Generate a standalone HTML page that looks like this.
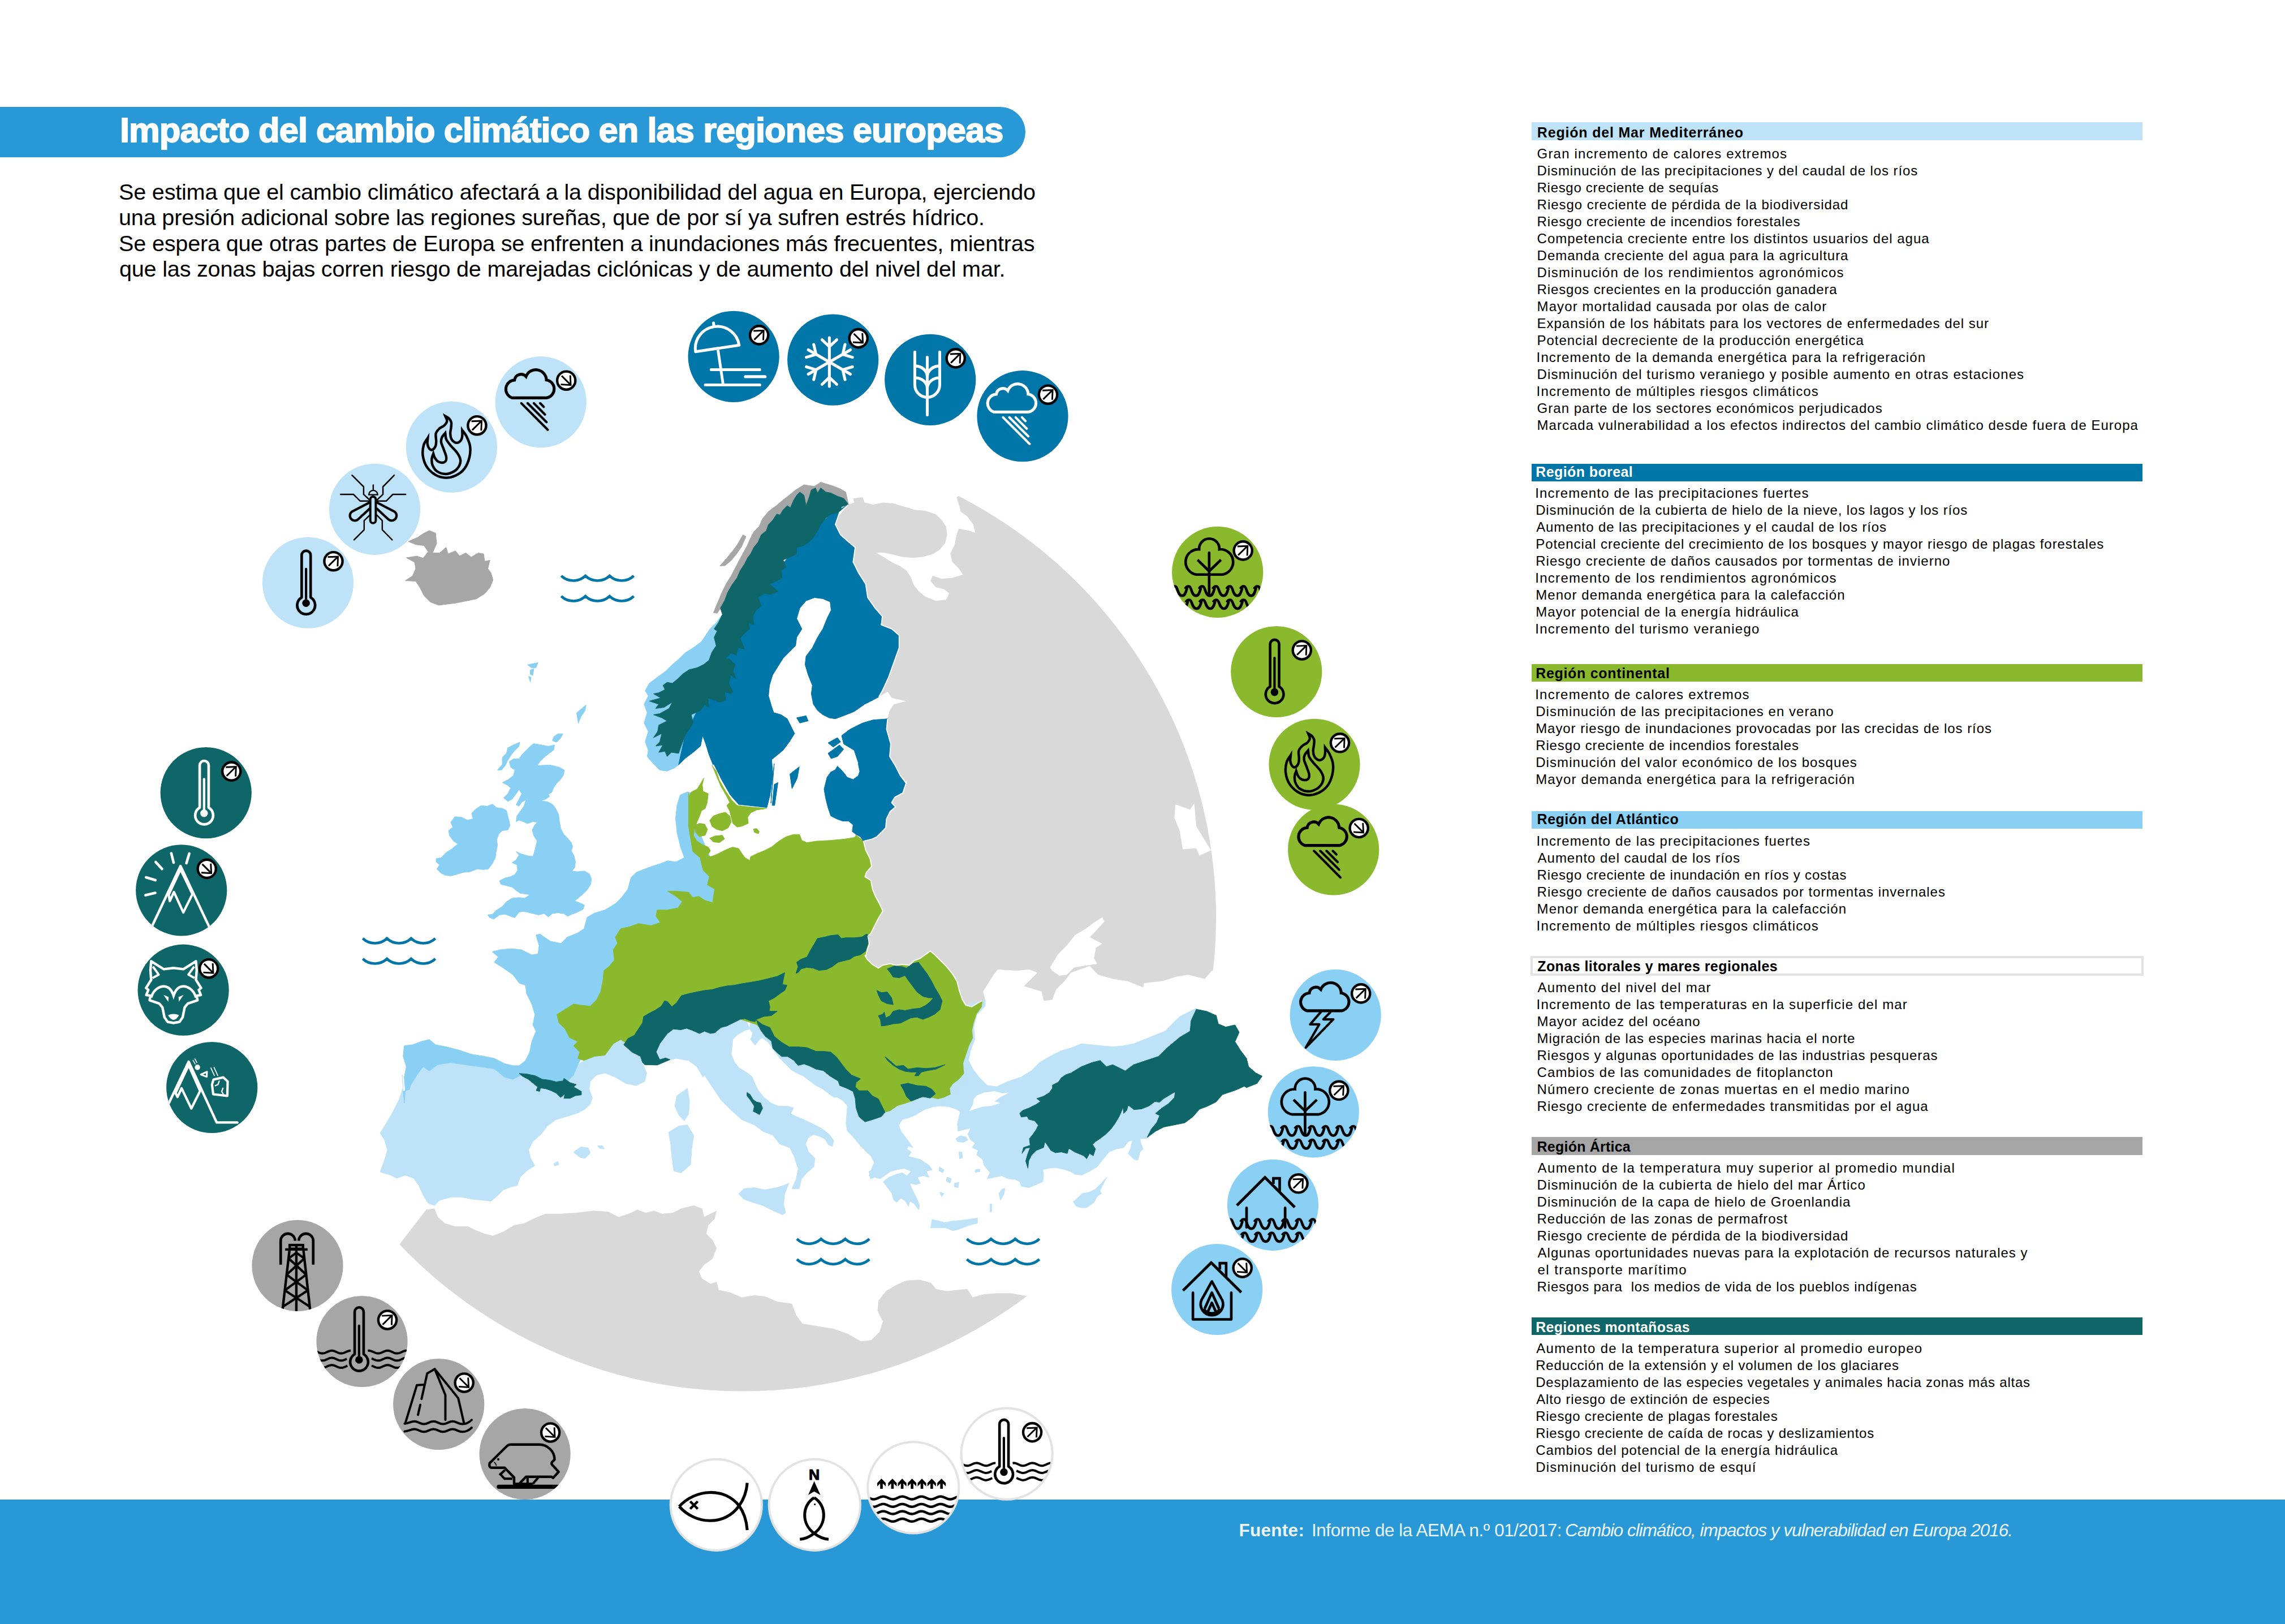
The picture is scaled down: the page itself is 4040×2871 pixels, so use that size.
<!DOCTYPE html>
<html lang="es"><head><meta charset="utf-8"><title>Impacto del cambio climático en las regiones europeas</title>
<style>
html,body{margin:0;padding:0;background:#fff}
body{width:4040px;height:2871px;position:relative;overflow:hidden;font-family:'Liberation Sans',sans-serif}
.t{position:absolute;white-space:pre;margin:0}
.b{position:absolute}
.art{position:absolute;left:0;top:0}
#titlebar{position:absolute;left:0;top:188.9px;width:1813.3px;height:89.6px;background:#2998D6;border-radius:0 44.8px 44.8px 0}
#footer{position:absolute;left:0;top:2651px;width:4040px;height:220px;background:#2998D6}
</style></head><body>
<div id="titlebar"></div>
<div id="footer"></div>
<div class="b" style="left:2708px;top:216.4px;width:1080px;height:31.6px;background:#BEE3F8"></div>
<div class="b" style="left:2708px;top:820.0px;width:1080px;height:31.2px;background:#0075A8"></div>
<div class="b" style="left:2708px;top:1173.5px;width:1080px;height:31.3px;background:#8AB92D"></div>
<div class="b" style="left:2708px;top:1433.5px;width:1080px;height:31.3px;background:#8AD0F5"></div>
<div class="b" style="left:2705.8px;top:1690.2px;width:1076.1px;height:27.3px;background:#fff;border:4.2px solid #E3E3E3"></div>
<div class="b" style="left:2708px;top:2010.4px;width:1080px;height:31.3px;background:#A6A6A6"></div>
<div class="b" style="left:2708px;top:2329.0px;width:1080px;height:31.2px;background:#0E6669"></div>
<svg class="art" width="4040" height="2871" viewBox="0 0 4040 2871">
<defs><clipPath id="mapclip"><circle cx="1312.5" cy="1622.0" r="837.5"/></clipPath></defs>
<g shape-rendering="geometricPrecision">
<path d="M1500.2,892.1 L1510.2,888.4 L1508.4,881.0 L1525.0,879.1 L1528.7,888.4 L1543.5,892.1 L1561.9,888.4 L1580.4,890.2 L1598.9,895.8 L1617.4,901.3 L1635.8,903.1 L1654.3,908.7 L1665.4,919.8 L1672.8,930.9 L1674.6,945.6 L1671.0,960.4 L1661.7,971.5 L1650.6,978.9 L1632.2,984.4 L1613.7,986.3 L1595.2,984.4 L1580.4,980.8 L1561.9,977.1 L1549.0,977.1 L1561.9,984.4 L1576.7,993.7 L1591.5,1001.1 L1602.6,1008.5 L1610.0,1019.6 L1615.5,1034.3 L1624.8,1045.4 L1635.8,1054.7 L1654.3,1062.1 L1672.8,1060.2 L1678.3,1049.1 L1669.1,1041.7 L1654.3,1038.0 L1645.1,1026.9 L1648.8,1017.7 L1665.4,1023.3 L1683.9,1021.4 L1702.4,1015.9 L1695.0,1004.8 L1683.9,993.7 L1680.2,978.9 L1687.6,964.1 L1691.3,945.6 L1695.0,934.6 L1713.5,938.3 L1724.5,942.0 L1720.8,927.2 L1709.8,912.4 L1698.7,905.0 L1695.0,890.2 L1691.3,879.1 L2000.0,700.0 L2400.0,800.0 L2400.0,1760.0 L2152.1,1719.5 L2142.9,1715.9 L2130.0,1730.6 L2100.4,1723.2 L2078.2,1726.9 L2056.1,1734.3 L2022.8,1738.0 L2021.0,1745.4 L1993.2,1734.3 L1967.4,1730.6 L1941.5,1723.2 L1926.7,1707.7 L1893.5,1719.5 L1882.4,1734.3 L1867.6,1749.1 L1860.2,1767.6 L1845.4,1769.4 L1841.7,1752.8 L1810.3,1743.6 L1834.3,1719.5 L1819.5,1714.0 L1797.4,1715.9 L1764.1,1714.0 L1756.7,1723.2 L1738.2,1752.8 L1741.9,1767.6 L1716.1,1811.9 L1597.8,1775.0 L1505.4,1719.5 L1505.4,1534.8 L1505.4,1483.0 L1553.5,1460.9 L1561.9,1374.3 L1561.9,1285.6 L1569.3,1270.8 L1573.0,1256.1 L1580.4,1245.0 L1602.6,1239.4 L1576.7,1233.9 L1569.3,1222.8 L1553.8,1232.0 L1543.5,1189.5 L1573.0,1134.1 L1543.5,1086.1 L1499.1,975.2 L1469.5,927.2Z" fill="#D9D9D9" clip-path="url(#mapclip)"/>
<path d="M687.0,2232.6 L707.3,2198.6 L753.5,2138.4 L768.3,2136.5 L773.8,2151.3 L786.7,2162.4 L805.2,2167.9 L827.4,2167.9 L842.2,2175.3 L856.9,2180.9 L871.7,2184.6 L890.2,2177.2 L908.7,2166.1 L927.2,2162.4 L941.9,2155.0 L964.1,2145.8 L990.0,2145.8 L1019.5,2143.9 L1049.1,2140.2 L1075.0,2142.1 L1093.5,2151.3 L1111.9,2145.8 L1126.7,2138.4 L1141.5,2143.9 L1156.3,2140.2 L1171.1,2145.8 L1189.5,2143.9 L1204.3,2136.5 L1226.5,2131.0 L1241.3,2136.5 L1245.0,2151.3 L1259.8,2143.9 L1267.1,2140.2 L1263.5,2155.0 L1252.4,2166.1 L1248.7,2180.9 L1259.8,2191.9 L1267.1,2206.7 L1259.8,2225.2 L1245.0,2236.3 L1235.7,2247.4 L1241.3,2260.3 L1256.1,2269.5 L1267.1,2265.9 L1270.8,2280.6 L1289.3,2284.3 L1311.5,2293.6 L1333.7,2289.9 L1352.1,2291.7 L1374.3,2301.0 L1400.2,2304.7 L1407.6,2325.0 L1418.7,2339.8 L1450.1,2345.3 L1473.9,2349.0 L1499.8,2358.2 L1522.0,2371.2 L1540.4,2369.3 L1555.2,2354.5 L1560.8,2336.1 L1551.5,2317.6 L1553.4,2299.1 L1566.3,2282.5 L1584.8,2271.4 L1601.4,2264.0 L1625.4,2262.2 L1645.8,2267.7 L1655.0,2278.8 L1673.5,2282.5 L1691.9,2280.6 L1710.4,2278.8 L1719.7,2293.6 L1740.0,2288.0 L1762.2,2286.2 L1788.0,2286.2 L1813.9,2291.0 L1880.4,2269.5 L1900.0,2700.0 L600.0,2700.0Z" fill="#D9D9D9" clip-path="url(#mapclip)"/>
<path d="M714.8,1848.9 L729.6,1847.0 L744.3,1841.5 L759.1,1837.8 L770.2,1847.0 L788.7,1850.7 L810.9,1856.3 L833.0,1863.7 L855.2,1867.4 L873.7,1871.1 L892.2,1880.3 L906.9,1884.0 L918.0,1884.0 L1014.1,1896.9 L1021.5,1882.2 L1032.6,1874.8 L1051.1,1867.4 L1069.5,1865.5 L1084.3,1845.2 L1097.3,1837.8 L1106.5,1843.3 L1117.6,1860.0 L1132.4,1867.4 L1136.1,1880.3 L1143.5,1896.9 L1139.8,1911.7 L1125.0,1919.1 L1106.5,1915.4 L1088.0,1904.3 L1069.5,1896.9 L1054.8,1900.6 L1043.7,1911.7 L1043.6,1911.1 L1041.7,1925.9 L1047.3,1940.7 L1043.6,1951.7 L1034.3,1961.0 L1019.5,1968.4 L1001.1,1973.9 L982.6,1979.5 L967.8,1990.5 L956.7,2005.3 L941.9,2018.3 L934.6,2033.0 L938.2,2047.8 L945.6,2060.8 L930.9,2070.0 L919.8,2081.1 L914.2,2095.9 L905.0,2097.7 L890.2,2103.3 L879.1,2114.3 L868.0,2123.6 L853.3,2121.7 L834.8,2119.9 L816.3,2116.2 L797.8,2116.2 L777.5,2121.7 L768.3,2131.0 L757.2,2127.3 L747.9,2112.5 L740.5,2095.9 L731.3,2082.9 L716.5,2077.4 L701.7,2082.9 L690.7,2077.4 L672.2,2071.8 L679.6,2051.5 L685.1,2033.0 L679.6,2014.6 L672.2,2003.5 L683.3,1985.0 L694.3,1966.5 L705.4,1944.3 L712.8,1922.2 L711.0,1900.0 L714.8,1950.1 L716.6,1926.5 L714.8,1904.3 L718.5,1885.8 L712.9,1867.4Z" fill="#BEE3F8" stroke="#BEE3F8" stroke-width="1" stroke-linejoin="round"/>
<path d="M1014.0,2036.7 L1026.9,2027.5 L1039.9,2029.3 L1043.6,2038.6 L1034.3,2047.8 L1025.1,2046.0Z" fill="#BEE3F8" stroke="#BEE3F8" stroke-width="1" stroke-linejoin="round"/>
<path d="M1056.5,2025.6 L1065.7,2025.6 L1068.3,2031.2 L1060.2,2030.1Z" fill="#BEE3F8" stroke="#BEE3F8" stroke-width="1" stroke-linejoin="round"/>
<path d="M978.9,2057.1 L986.3,2053.4 L988.1,2058.9 L980.7,2061.5Z" fill="#BEE3F8" stroke="#BEE3F8" stroke-width="1" stroke-linejoin="round"/>
<path d="M1196.9,1937.0 L1215.4,1924.0 L1219.1,1948.0 L1217.3,1970.2 L1209.9,1981.3 L1200.6,1972.1 L1193.2,1955.4Z" fill="#BEE3F8" stroke="#BEE3F8" stroke-width="1" stroke-linejoin="round"/>
<path d="M1182.2,2001.6 L1200.6,1990.5 L1215.4,1988.7 L1226.5,2007.2 L1222.8,2033.0 L1221.0,2058.9 L1204.3,2073.7 L1191.4,2070.0 L1187.7,2044.1 L1185.8,2022.0Z" fill="#BEE3F8" stroke="#BEE3F8" stroke-width="1" stroke-linejoin="round"/>
<path d="M1305.9,2110.6 L1315.2,2101.4 L1333.7,2099.6 L1352.1,2103.3 L1374.3,2099.6 L1394.6,2092.2 L1387.3,2110.6 L1385.4,2129.1 L1389.1,2143.9 L1383.6,2147.6 L1366.9,2140.2 L1348.4,2131.0 L1330.0,2125.4 L1315.2,2119.9Z" fill="#BEE3F8" stroke="#BEE3F8" stroke-width="1" stroke-linejoin="round"/>
<path d="M1184.8,1873.3 L1195.2,1871.1 L1217.4,1874.8 L1232.2,1885.8 L1243.2,1904.3 L1245.0,1900.0 L1259.8,1922.2 L1274.5,1944.3 L1293.0,1962.8 L1311.5,1979.5 L1333.7,1988.7 L1348.4,1999.8 L1366.9,2007.2 L1378.0,2022.0 L1396.5,2029.3 L1403.9,2044.1 L1411.3,2066.3 L1407.6,2084.8 L1400.2,2101.4 L1413.1,2101.4 L1416.8,2084.8 L1426.1,2073.7 L1439.0,2062.6 L1440.8,2047.8 L1429.7,2036.7 L1424.2,2022.0 L1429.7,2009.0 L1440.8,2003.5 L1426.8,2013.5 L1437.4,2005.6 L1447.9,2008.3 L1458.4,2013.5 L1464.9,2024.0 L1471.5,2026.6 L1474.1,2016.1 L1466.2,2005.6 L1453.1,1995.1 L1437.4,1987.2 L1421.6,1979.4 L1408.5,1974.1 L1398.0,1968.9 L1403.2,1958.4 L1392.7,1955.7 L1377.0,1955.7 L1363.8,1950.5 L1350.7,1940.0 L1340.2,1926.8 L1334.9,1916.3 L1329.7,1903.2 L1319.2,1895.3 L1306.1,1887.5 L1298.2,1877.0 L1292.9,1863.8 L1294.2,1850.7 L1295.5,1837.6 L1303.4,1829.7 L1316.6,1821.8 L1325.7,1819.2 L1311.3,1785.0 L1232.5,1785.0 L1180.0,1798.2 L1166.4,1845.2 L1161.9,1860.0 L1143.5,1878.5Z" fill="#BEE3F8" stroke="#BEE3F8" stroke-width="1" stroke-linejoin="round"/>
<path d="M1325.7,1819.2 L1331.0,1827.1 L1327.1,1837.6 L1334.9,1848.1 L1342.8,1837.6 L1348.1,1834.9 L1358.6,1842.8 L1369.1,1858.6 L1379.6,1871.7 L1390.1,1882.2 L1400.6,1892.7 L1411.1,1898.0 L1421.6,1903.2 L1432.1,1911.1 L1442.6,1919.0 L1453.1,1924.2 L1463.6,1932.1 L1474.1,1940.0 L1480.0,1939.4 L1490.5,1946.0 L1498.4,1955.1 L1497.1,1970.9 L1495.8,1986.7 L1498.4,1999.8 L1508.9,2010.3 L1519.4,2023.4 L1529.9,2033.9 L1540.4,2044.4 L1545.7,2054.9 L1540.4,2068.1 L1536.5,2078.6 L1545.7,2081.2 L1556.2,2083.8 L1564.0,2078.6 L1574.5,2070.7 L1585.0,2068.1 L1598.2,2065.4 L1611.3,2070.7 L1603.4,2078.6 L1595.5,2073.3 L1585.0,2075.9 L1571.9,2081.2 L1561.4,2089.1 L1569.3,2099.6 L1577.2,2110.1 L1579.8,2120.6 L1585.0,2125.8 L1592.9,2118.0 L1600.8,2123.2 L1606.1,2132.4 L1608.7,2123.2 L1616.6,2128.5 L1624.4,2139.0 L1625.7,2131.1 L1621.8,2120.6 L1616.6,2110.1 L1611.3,2099.6 L1608.7,2091.7 L1619.2,2094.3 L1627.1,2091.7 L1621.8,2081.2 L1632.3,2078.6 L1642.8,2081.2 L1637.6,2070.7 L1648.1,2068.1 L1642.8,2060.2 L1634.9,2054.9 L1627.1,2049.7 L1616.6,2047.1 L1606.1,2044.4 L1611.3,2036.6 L1603.4,2031.3 L1606.1,2026.1 L1613.9,2028.7 L1608.7,2020.8 L1600.8,2010.3 L1592.9,1999.8 L1589.0,1989.3 L1595.5,1978.8 L1606.1,1976.2 L1619.2,1970.9 L1627.1,1965.7 L1637.6,1960.4 L1650.7,1956.5 L1663.8,1955.1 L1677.0,1956.5 L1690.1,1960.4 L1698.0,1965.7 L1695.3,1976.2 L1692.7,1986.7 L1694.0,1999.8 L1703.2,1997.2 L1716.3,1994.5 L1711.1,2005.0 L1716.3,2015.5 L1724.2,2020.8 L1719.0,2028.7 L1729.5,2033.9 L1726.8,2041.8 L1737.4,2049.7 L1740.0,2060.2 L1750.5,2073.3 L1745.2,2083.8 L1758.4,2081.2 L1771.5,2078.6 L1782.0,2083.8 L1795.1,2085.1 L1803.0,2089.1 L1805.6,2097.0 L1818.8,2099.6 L1831.9,2094.3 L1843.7,2089.1 L1845.0,2078.6 L1843.7,2068.1 L1852.9,2065.4 L1866.0,2064.1 L1879.2,2066.8 L1892.3,2070.7 L1900.2,2075.9 L1913.3,2077.3 L1926.4,2070.7 L1939.6,2062.8 L1950.1,2049.7 L1960.6,2036.6 L1973.7,2031.3 L1986.8,2028.7 L1994.7,2018.2 L2002.6,2015.5 L1998.6,2031.3 L1994.7,2039.2 L2005.2,2049.7 L2011.8,2051.0 L2015.7,2036.6 L2021.0,2031.3 L2017.0,2020.8 L2015.7,2012.9 L2026.2,2012.9 L2100.0,1960.0 L2150.0,1900.0 L2120.0,1800.0 L2115.2,1782.4 L2100.4,1789.8 L2085.6,1797.2 L2074.5,1808.2 L2059.8,1823.0 L2041.3,1830.4 L2022.8,1837.8 L2004.3,1845.2 L1985.8,1848.9 L1967.4,1850.7 L1948.9,1848.9 L1930.4,1847.0 L1911.9,1845.2 L1893.5,1852.6 L1875.0,1858.1 L1856.5,1867.4 L1838.0,1878.5 L1823.2,1893.2 L1804.8,1904.3 L1782.6,1911.7 L1762.3,1921.0 L1745.6,1919.1 L1730.9,1904.3 L1719.8,1889.5 L1712.4,1874.8 L1716.1,1856.3 L1723.5,1837.8 L1721.6,1815.6 L1727.2,1793.5 L1741.9,1778.7 L1741.9,1767.6 L1678.9,1785.0 L1495.1,1837.6 L1363.8,1806.1 L1327.1,1798.2Z" fill="#BEE3F8" stroke="#BEE3F8" stroke-width="1" stroke-linejoin="round"/>
<path d="M1645.4,2170.5 L1648.1,2156.0 L1661.2,2158.7 L1669.1,2161.3 L1684.8,2158.7 L1698.0,2157.4 L1711.1,2156.0 L1728.2,2153.4 L1728.2,2162.6 L1716.3,2165.2 L1705.8,2169.2 L1695.3,2173.1 L1684.8,2175.7 L1671.7,2170.5 L1658.6,2170.5Z" fill="#BEE3F8" stroke="#BEE3F8" stroke-width="1" stroke-linejoin="round"/>
<path d="M1766.2,2110.1 L1771.5,2102.2 L1776.7,2100.9 L1775.4,2110.1 L1768.9,2121.9Z" fill="#BEE3F8" stroke="#BEE3F8" stroke-width="1" stroke-linejoin="round"/>
<path d="M1897.5,2124.5 L1905.4,2118.0 L1913.3,2110.1 L1926.4,2107.5 L1936.9,2102.2 L1947.4,2091.7 L1956.6,2081.2 L1950.1,2094.3 L1944.8,2104.8 L1947.4,2110.1 L1939.6,2115.3 L1934.3,2125.8 L1921.2,2135.0 L1910.7,2135.0 L1902.8,2132.4Z" fill="#BEE3F8" stroke="#BEE3F8" stroke-width="1" stroke-linejoin="round"/>
<path d="M1750.5,2128.5 L1753.1,2128.5 L1753.6,2141.6 L1750.5,2142.9Z" fill="#BEE3F8" stroke="#BEE3F8" stroke-width="1" stroke-linejoin="round"/>
<path d="M1690.1,2012.9 L1698.0,2007.7 L1708.5,2010.3 L1711.1,2015.5 L1703.2,2019.5 L1692.7,2018.2Z" fill="#BEE3F8" stroke="#BEE3F8" stroke-width="1" stroke-linejoin="round"/>
<path d="M1695.3,2036.6 L1700.6,2036.6 L1701.9,2047.1 L1696.6,2048.4Z" fill="#BEE3F8" stroke="#BEE3F8" stroke-width="1" stroke-linejoin="round"/>
<path d="M1724.2,2068.1 L1732.1,2066.8 L1732.6,2071.2 L1724.2,2072.5Z" fill="#BEE3F8" stroke="#BEE3F8" stroke-width="1" stroke-linejoin="round"/>
<path d="M1661.2,2062.8 L1669.1,2068.1 L1666.4,2073.3 L1659.9,2069.4Z" fill="#BEE3F8" stroke="#BEE3F8" stroke-width="1" stroke-linejoin="round"/>
<path d="M1674.3,2081.2 L1682.2,2083.8 L1679.6,2091.7 L1673.0,2087.8Z" fill="#BEE3F8" stroke="#BEE3F8" stroke-width="1" stroke-linejoin="round"/>
<path d="M1687.5,2091.7 L1695.3,2090.4 L1694.0,2099.6 L1687.5,2098.3Z" fill="#BEE3F8" stroke="#BEE3F8" stroke-width="1" stroke-linejoin="round"/>
<path d="M1661.2,2107.5 L1669.1,2110.1 L1665.1,2115.3Z" fill="#BEE3F8" stroke="#BEE3F8" stroke-width="1" stroke-linejoin="round"/>
<path d="M1536.5,2070.7 L1543.0,2068.1 L1547.0,2081.2 L1539.1,2083.8Z" fill="#BEE3F8" stroke="#BEE3F8" stroke-width="1" stroke-linejoin="round"/>
<path d="M932.7,1175.2 L951.2,1171.5 L947.5,1180.7 L940.1,1180.7Z" fill="#8AD0F5" stroke="#8AD0F5" stroke-width="1" stroke-linejoin="round"/>
<path d="M937.5,1184.4 L943.8,1182.6 L941.9,1194.4 L937.5,1191.8Z" fill="#8AD0F5" stroke="#8AD0F5" stroke-width="1" stroke-linejoin="round"/>
<path d="M934.6,1195.5 L939.0,1197.4 L937.5,1205.5Z" fill="#8AD0F5" stroke="#8AD0F5" stroke-width="1" stroke-linejoin="round"/>
<path d="M1019.5,1260.2 L1036.2,1246.2 L1034.3,1256.5 L1026.9,1267.6 L1022.5,1278.7Z" fill="#8AD0F5" stroke="#8AD0F5" stroke-width="1" stroke-linejoin="round"/>
<path d="M943.5,1314.5 L957.0,1316.9 L969.4,1319.4 L980.4,1316.9 L979.2,1325.6 L969.4,1333.0 L962.0,1339.1 L954.6,1346.5 L949.7,1353.9 L962.0,1352.7 L974.3,1352.7 L989.1,1356.4 L997.7,1361.3 L996.5,1369.9 L991.5,1377.3 L985.4,1383.4 L979.2,1392.1 L975.5,1400.7 L969.4,1404.4 L971.8,1408.1 L964.4,1413.0 L955.8,1415.5 L969.4,1417.9 L978.0,1422.9 L982.9,1430.2 L987.8,1440.1 L989.1,1452.4 L991.5,1464.7 L996.5,1474.6 L1003.8,1482.0 L1010.0,1489.4 L1012.5,1496.7 L1010.0,1504.1 L1014.9,1512.8 L1017.4,1523.8 L1016.2,1533.7 L1011.2,1539.9 L1021.1,1541.1 L1033.4,1539.9 L1042.0,1544.8 L1045.7,1553.4 L1044.5,1563.3 L1038.3,1573.1 L1030.9,1580.5 L1023.5,1586.7 L1016.2,1592.8 L1026.0,1596.5 L1033.4,1600.2 L1030.9,1607.6 L1021.1,1612.5 L1011.2,1616.2 L1003.8,1619.9 L996.5,1615.0 L986.6,1613.7 L976.7,1615.0 L969.4,1621.1 L962.0,1615.0 L952.1,1617.4 L942.3,1615.0 L932.4,1612.5 L925.0,1611.3 L917.6,1612.5 L910.2,1622.4 L902.9,1619.9 L893.0,1616.2 L883.2,1617.4 L873.3,1624.8 L865.9,1622.4 L862.2,1617.4 L870.8,1616.2 L878.2,1608.8 L888.1,1602.7 L895.5,1594.0 L905.3,1587.9 L917.6,1586.7 L927.5,1587.9 L937.3,1581.7 L930.0,1580.5 L920.1,1579.3 L912.7,1574.3 L905.3,1568.2 L895.5,1565.7 L885.6,1563.3 L883.2,1557.1 L893.0,1552.2 L902.9,1549.7 L910.2,1546.0 L915.2,1538.6 L913.9,1528.8 L905.3,1525.1 L912.7,1520.1 L917.6,1511.5 L912.7,1505.4 L920.1,1509.1 L932.4,1512.8 L942.3,1514.0 L944.7,1506.6 L947.2,1496.7 L949.7,1486.9 L943.5,1477.0 L941.0,1467.2 L944.7,1459.8 L949.7,1453.6 L942.3,1452.4 L932.4,1456.1 L925.0,1452.4 L917.6,1450.0 L912.7,1452.4 L913.9,1442.6 L920.1,1433.9 L926.3,1425.3 L930.0,1414.2 L922.6,1417.9 L917.6,1425.3 L912.7,1422.9 L917.6,1413.0 L922.6,1403.2 L917.6,1395.8 L912.7,1403.2 L905.3,1413.0 L897.9,1416.7 L890.5,1410.5 L897.9,1403.2 L902.9,1393.3 L897.9,1388.4 L888.1,1383.4 L897.9,1378.5 L907.8,1371.1 L910.2,1361.3 L902.9,1356.4 L900.4,1346.5 L907.8,1341.6 L917.6,1341.6 L922.6,1334.2 L930.0,1326.8 L937.3,1319.4Z" fill="#8AD0F5" stroke="#8AD0F5" stroke-width="1" stroke-linejoin="round"/>
<path d="M879.5,1361.3 L888.1,1351.4 L888.1,1339.1 L895.5,1331.7 L897.9,1321.9 L907.8,1316.9 L918.9,1312.0 L917.6,1319.4 L910.2,1326.8 L904.1,1334.2 L897.9,1344.0 L893.0,1353.9 L886.8,1361.3Z" fill="#8AD0F5" stroke="#8AD0F5" stroke-width="1" stroke-linejoin="round"/>
<path d="M976.7,1309.6 L979.2,1302.2 L986.6,1297.2 L995.2,1297.2 L991.5,1304.6 L984.1,1312.0Z" fill="#8AD0F5" stroke="#8AD0F5" stroke-width="1" stroke-linejoin="round"/>
<path d="M771.1,1517.7 L779.7,1516.5 L789.6,1506.6 L799.4,1500.4 L809.3,1491.8 L801.9,1486.9 L794.5,1477.0 L793.3,1468.4 L800.6,1462.3 L796.9,1453.6 L804.3,1443.8 L816.7,1445.0 L826.5,1450.0 L836.4,1447.5 L833.9,1437.6 L841.3,1430.2 L851.1,1424.1 L861.0,1425.3 L870.8,1421.6 L878.2,1427.8 L888.1,1429.0 L895.5,1432.7 L897.9,1442.6 L900.4,1452.4 L901.6,1459.8 L897.9,1467.2 L888.1,1468.4 L881.9,1474.6 L878.2,1484.4 L879.5,1494.3 L877.0,1506.6 L875.8,1516.5 L870.8,1526.3 L863.4,1536.2 L853.6,1537.4 L843.7,1536.2 L831.4,1541.1 L819.1,1542.3 L806.8,1546.0 L796.9,1548.5 L787.1,1547.2 L779.7,1543.5 L772.3,1536.2 L777.2,1528.8 L771.1,1523.8Z" fill="#8AD0F5" stroke="#8AD0F5" stroke-width="1" stroke-linejoin="round"/>
<path d="M1500.2,892.1 L1491.7,881.0 L1480.6,877.3 L1469.5,871.7 L1460.3,869.9 L1451.1,862.5 L1445.5,871.7 L1441.8,862.5 L1434.4,866.2 L1430.7,879.1 L1425.2,893.9 L1421.5,875.4 L1414.1,869.9 L1408.6,875.4 L1403.0,884.7 L1397.5,897.6 L1391.9,893.9 L1384.6,901.3 L1379.0,910.5 L1373.5,908.7 L1366.1,919.8 L1358.7,927.2 L1355.0,938.3 L1345.8,945.6 L1340.2,958.6 L1332.8,967.8 L1327.3,978.9 L1321.7,986.3 L1316.2,997.4 L1308.8,1008.5 L1303.3,1021.4 L1294.0,1034.3 L1286.6,1047.3 L1281.1,1062.1 L1273.7,1075.0 L1268.1,1084.2 L1261.5,1083.1 L1266.3,1071.3 L1271.8,1058.4 L1278.1,1043.6 L1284.8,1030.6 L1292.9,1017.7 L1299.6,1004.8 L1306.9,990.7 L1314.3,977.1 L1321.0,964.9 L1326.2,953.0 L1332.8,940.1 L1342.1,930.9 L1348.3,916.8 L1358.7,904.3 L1373.5,893.2 L1384.6,883.6 L1395.6,875.4 L1406.7,866.2 L1421.5,857.0 L1440.0,859.9 L1451.1,852.5 L1469.5,858.1 L1484.3,863.6 L1495.4,869.9Z" fill="#A6A6A6" stroke="#A6A6A6" stroke-width="1" stroke-linejoin="round"/>
<path d="M1272.9,1000.3 L1284.8,987.0 L1295.9,973.4 L1304.0,962.3 L1313.6,945.6 L1318.8,948.6 L1311.4,966.0 L1302.5,978.9 L1292.9,990.7 L1281.8,1000.0Z" fill="#A6A6A6" stroke="#A6A6A6" stroke-width="1" stroke-linejoin="round"/>
<path d="M1276.6,1086.8 L1266.3,1100.9 L1255.2,1111.9 L1247.8,1123.0 L1240.4,1134.1 L1225.6,1145.2 L1210.9,1154.4 L1199.8,1165.5 L1188.7,1174.8 L1177.6,1185.9 L1162.8,1196.9 L1148.0,1208.0 L1140.7,1221.0 L1146.2,1230.2 L1138.8,1245.0 L1144.3,1259.8 L1138.8,1278.2 L1146.2,1293.0 L1140.7,1311.5 L1146.2,1326.3 L1144.3,1337.4 L1153.6,1348.5 L1166.5,1361.4 L1179.5,1363.2 L1192.4,1357.7 L1199.8,1352.2 L1210.9,1300.4 L1247.8,1226.5 L1277.4,1152.6 L1292.2,1100.9Z" fill="#8AD0F5" stroke="#8AD0F5" stroke-width="1" stroke-linejoin="round"/>
<path d="M1215.5,1399.9 L1202.6,1405.4 L1197.0,1423.9 L1194.5,1446.1 L1197.0,1472.0 L1203.3,1497.8 L1210.0,1516.3 L1195.2,1523.7 L1180.4,1521.8 L1165.6,1527.4 L1143.5,1534.8 L1125.0,1542.2 L1115.7,1551.4 L1110.2,1571.7 L1099.1,1586.5 L1088.0,1597.6 L1069.5,1608.7 L1051.1,1614.2 L1038.1,1621.6 L1032.6,1641.9 L1021.5,1649.3 L1003.0,1656.7 L991.9,1667.8 L973.5,1664.1 L962.4,1656.7 L955.0,1651.2 L947.6,1653.0 L953.1,1671.5 L951.3,1686.3 L940.2,1688.1 L921.7,1678.9 L903.3,1677.1 L884.8,1678.9 L870.0,1682.6 L881.1,1691.8 L873.7,1701.1 L888.5,1710.3 L906.9,1723.2 L918.0,1738.0 L929.1,1741.7 L931.0,1756.5 L940.2,1775.0 L945.8,1793.5 L942.1,1811.9 L947.6,1823.0 L940.2,1841.5 L936.5,1860.0 L929.1,1874.8 L918.0,1884.0 L906.9,1884.0 L892.2,1880.3 L873.7,1871.1 L855.2,1867.4 L833.0,1863.7 L810.9,1856.3 L788.7,1850.7 L770.2,1847.0 L759.1,1837.8 L744.3,1841.5 L729.6,1847.0 L714.8,1848.9 L712.9,1867.4 L718.5,1885.8 L714.8,1904.3 L716.6,1926.5 L714.8,1950.1 L712.8,1929.6 L723.9,1925.9 L725.9,1919.1 L737.0,1900.6 L748.0,1885.8 L759.1,1893.2 L773.9,1882.2 L796.1,1878.5 L822.0,1882.2 L847.8,1885.8 L873.7,1889.5 L892.2,1904.3 L906.9,1908.0 L921.7,1900.6 L958.7,1911.7 L995.6,1919.1 L1014.1,1900.6 L1021.5,1882.2 L1069.5,1793.5 L1143.5,1645.6 L1276.5,1608.7 L1283.9,1556.9 L1254.3,1512.6 L1232.2,1460.9 L1221.1,1401.7Z" fill="#8AD0F5" stroke="#8AD0F5" stroke-width="1" stroke-linejoin="round"/>
<path d="M1217.4,1401.7 L1217.4,1460.9 L1224.8,1505.2 L1237.7,1516.3 L1243.2,1538.5 L1254.3,1549.6 L1250.6,1564.3 L1263.6,1571.7 L1259.9,1595.8 L1246.9,1592.1 L1235.8,1584.7 L1224.8,1586.5 L1217.4,1577.3 L1195.2,1575.4 L1180.4,1575.4 L1195.2,1584.7 L1206.3,1593.9 L1198.9,1605.0 L1180.4,1608.7 L1161.9,1608.7 L1160.1,1619.8 L1167.5,1630.9 L1150.8,1636.4 L1128.7,1632.7 L1113.9,1638.2 L1097.3,1641.9 L1088.0,1656.7 L1091.7,1667.8 L1084.3,1678.9 L1086.2,1697.4 L1076.9,1708.5 L1067.7,1715.9 L1065.9,1734.3 L1062.2,1752.8 L1054.8,1767.6 L1043.7,1778.7 L1025.2,1776.8 L1014.1,1775.0 L999.3,1784.2 L984.6,1793.5 L988.2,1808.2 L999.3,1819.3 L1006.7,1834.1 L1021.5,1841.5 L1014.1,1848.9 L1025.2,1860.0 L1021.5,1871.1 L1032.6,1874.8 L1051.1,1867.4 L1069.5,1865.5 L1084.3,1845.2 L1097.3,1837.8 L1106.5,1843.3 L1258.8,1785.0 L1337.6,1811.3 L1390.1,1863.8 L1468.9,1890.1 L1521.4,1942.6 L1564.7,1966.2 L1573.9,1963.6 L1587.0,1954.4 L1600.2,1950.5 L1615.9,1945.2 L1626.4,1940.0 L1636.9,1938.7 L1647.4,1940.0 L1657.9,1942.6 L1668.4,1940.0 L1680.3,1934.7 L1678.9,1924.2 L1684.2,1916.3 L1694.7,1908.5 L1703.9,1898.0 L1702.6,1879.6 L1707.8,1863.8 L1713.1,1848.1 L1719.7,1834.9 L1718.3,1821.8 L1721.0,1808.7 L1726.2,1792.9 L1735.4,1779.8 L1736.7,1769.3 L1728.8,1773.2 L1718.3,1779.8 L1707.8,1777.2 L1701.3,1766.7 L1696.0,1750.9 L1692.1,1735.1 L1684.2,1722.0 L1673.7,1708.9 L1663.2,1698.4 L1652.7,1687.9 L1644.8,1681.3 L1635.6,1687.9 L1626.4,1694.4 L1615.9,1698.4 L1608.0,1706.3 L1594.9,1704.9 L1584.4,1706.3 L1573.9,1703.6 L1560.8,1706.3 L1552.9,1711.5 L1542.4,1704.9 L1533.2,1695.8 L1529.3,1689.2 L1530.6,1691.9 L1533.2,1678.8 L1537.1,1668.3 L1534.5,1655.1 L1539.8,1649.9 L1546.3,1636.7 L1552.9,1623.6 L1560.8,1610.5 L1555.5,1598.7 L1547.6,1584.2 L1542.4,1571.1 L1539.8,1556.6 L1529.3,1550.1 L1531.9,1542.2 L1541.1,1531.7 L1538.5,1518.6 L1530.6,1502.8 L1526.6,1487.1 L1513.5,1476.6 L1510.9,1480.5 L1495.1,1483.1 L1468.9,1485.7 L1442.6,1487.1 L1426.8,1489.7 L1417.7,1485.7 L1413.7,1475.2 L1403.2,1475.2 L1390.1,1479.2 L1377.0,1487.1 L1363.8,1497.6 L1350.7,1504.1 L1337.6,1509.4 L1327.1,1514.6 L1325.7,1521.2 L1316.6,1515.9 L1311.3,1508.1 L1306.1,1500.2 L1295.5,1497.6 L1285.0,1501.5 L1277.2,1505.4 L1266.7,1510.7 L1256.2,1514.6 L1250.9,1512.0 L1256.2,1504.1 L1252.2,1497.6 L1240.4,1492.3 L1231.2,1485.7 L1226.0,1476.6 L1228.6,1463.4 L1232.5,1452.9 L1236.5,1443.7 L1240.4,1433.2 L1247.0,1429.3 L1250.4,1418.8 L1252.2,1403.0 L1243.0,1399.1 L1241.7,1387.3 L1244.3,1375.5 L1239.1,1384.6 L1232.5,1395.1 L1222.0,1400.4 L1218.1,1408.3Z" fill="#8AB92D" stroke="#8AB92D" stroke-width="1" stroke-linejoin="round"/>
<path d="M1228.6,1459.5 L1236.5,1455.5 L1245.7,1456.9 L1250.9,1466.1 L1247.0,1476.6 L1236.5,1479.2 L1229.9,1471.3Z" fill="#8AB92D" stroke="#8AB92D" stroke-width="1" stroke-linejoin="round"/>
<path d="M1254.8,1450.3 L1261.4,1442.4 L1271.9,1438.5 L1282.4,1435.9 L1290.3,1442.4 L1292.9,1452.9 L1287.7,1463.4 L1277.2,1468.7 L1266.7,1466.1 L1258.8,1460.8Z" fill="#8AB92D" stroke="#8AB92D" stroke-width="1" stroke-linejoin="round"/>
<path d="M1254.8,1481.8 L1264.0,1477.9 L1277.2,1476.6 L1281.1,1483.1 L1271.9,1489.7 L1261.4,1488.4Z" fill="#8AB92D" stroke="#8AB92D" stroke-width="1" stroke-linejoin="round"/>
<path d="M1332.3,1465.5 L1337.6,1464.7 L1342.3,1470.0 L1340.7,1473.9 L1333.6,1471.3Z" fill="#8AB92D" stroke="#8AB92D" stroke-width="1" stroke-linejoin="round"/>
<path d="M1258.8,1353.1 L1266.7,1363.6 L1271.9,1379.4 L1282.4,1397.8 L1292.9,1413.5 L1303.4,1424.0 L1327.1,1426.7 L1355.9,1429.3 L1337.6,1431.9 L1327.1,1437.2 L1321.8,1445.0 L1323.1,1455.5 L1311.3,1460.8 L1303.4,1462.1 L1295.5,1455.5 L1292.9,1445.0 L1290.3,1434.5 L1285.0,1424.0 L1290.3,1418.8 L1283.7,1405.7 L1274.5,1389.9 L1266.7,1371.5 L1261.4,1358.4Z" fill="#8AB92D" stroke="#8AB92D" stroke-width="1" stroke-linejoin="round"/>
<path d="M1500.2,892.1 L1484.3,905.7 L1476.9,927.2 L1486.2,945.6 L1501.0,958.6 L1512.0,967.8 L1508.4,993.7 L1517.6,1012.2 L1530.5,1032.5 L1534.2,1056.5 L1547.2,1075.0 L1560.1,1089.8 L1558.2,1104.6 L1576.7,1111.9 L1589.7,1123.0 L1589.7,1145.2 L1580.4,1171.1 L1571.2,1196.9 L1560.1,1221.0 L1553.8,1232.0 L1543.5,1237.6 L1528.7,1245.0 L1510.2,1257.9 L1491.7,1265.3 L1476.9,1270.8 L1465.9,1269.0 L1454.8,1263.5 L1445.5,1256.1 L1438.1,1245.0 L1434.4,1226.5 L1436.3,1211.7 L1428.9,1193.2 L1423.4,1174.8 L1425.2,1160.0 L1436.3,1145.2 L1445.5,1126.7 L1454.8,1111.9 L1462.2,1093.5 L1469.5,1078.7 L1467.7,1063.9 L1454.8,1058.4 L1440.0,1056.5 L1425.2,1062.1 L1414.1,1075.0 L1408.6,1093.5 L1417.8,1111.9 L1408.6,1126.7 L1406.7,1141.5 L1395.6,1152.6 L1384.6,1163.7 L1375.3,1178.5 L1366.1,1193.2 L1360.5,1211.7 L1358.7,1230.2 L1364.2,1248.7 L1367.9,1259.8 L1380.9,1263.5 L1391.9,1270.8 L1399.3,1285.6 L1404.9,1296.7 L1395.6,1311.5 L1384.6,1326.3 L1373.5,1335.5 L1364.2,1342.9 L1366.1,1363.2 L1366.1,1381.7 L1364.2,1400.2 L1363.1,1420.1 L1368.9,1350.0 L1365.2,1379.6 L1361.5,1405.4 L1355.9,1427.6 L1306.1,1422.1 L1291.3,1405.4 L1276.5,1379.6 L1261.7,1350.0 L1260.8,1352.2 L1253.4,1333.7 L1247.8,1315.2 L1242.3,1300.4 L1238.6,1318.9 L1225.6,1330.0 L1210.9,1341.1 L1199.8,1352.2 L1210.9,1300.4 L1247.8,1226.5 L1277.4,1152.6 L1306.9,1100.9 L1358.7,1026.9 L1414.1,960.4 L1469.5,908.7Z" fill="#0075A8" stroke="#0075A8" stroke-width="1" stroke-linejoin="round"/>
<path d="M1368.9,1387.0 L1375.5,1383.3 L1369.6,1423.9 L1365.2,1423.9Z" fill="#0075A8" stroke="#0075A8" stroke-width="1" stroke-linejoin="round"/>
<path d="M1396.6,1368.5 L1413.2,1355.5 L1409.5,1375.9 L1400.3,1394.3Z" fill="#0075A8" stroke="#0075A8" stroke-width="1" stroke-linejoin="round"/>
<path d="M1464.0,1313.3 L1480.6,1304.1 L1486.2,1311.5 L1473.2,1320.7Z" fill="#0075A8" stroke="#0075A8" stroke-width="1" stroke-linejoin="round"/>
<path d="M1464.0,1331.8 L1484.3,1317.0 L1491.7,1324.4 L1480.6,1337.4 L1469.5,1341.1Z" fill="#0075A8" stroke="#0075A8" stroke-width="1" stroke-linejoin="round"/>
<path d="M1408.6,1269.0 L1425.2,1265.3 L1428.9,1274.5 L1414.1,1278.2Z" fill="#0075A8" stroke="#0075A8" stroke-width="1" stroke-linejoin="round"/>
<path d="M1488.0,1300.4 L1502.8,1289.3 L1525.0,1278.2 L1543.5,1272.7 L1569.3,1270.8 L1567.5,1289.3 L1574.9,1315.2 L1573.0,1337.4 L1584.1,1355.8 L1591.5,1370.6 L1602.6,1385.4 L1602.8,1382.0 L1596.2,1401.7 L1581.8,1409.6 L1576.5,1418.8 L1583.1,1426.7 L1573.9,1434.5 L1567.3,1447.7 L1566.0,1463.4 L1558.2,1471.3 L1550.3,1479.2 L1542.4,1483.1 L1526.6,1487.1 L1521.4,1479.2 L1513.5,1475.2 L1506.9,1470.0 L1508.3,1458.2 L1500.4,1451.6 L1489.9,1451.6 L1479.4,1447.7 L1468.9,1442.4 L1463.6,1426.7 L1459.7,1410.9 L1457.0,1395.1 L1462.3,1374.1 L1468.9,1364.9 L1476.7,1361.0 L1480.7,1354.4 L1489.9,1363.6 L1497.8,1374.1 L1508.3,1378.1 L1517.4,1371.5 L1520.1,1363.6 L1517.4,1350.5 L1517.6,1348.5 L1510.2,1326.3 L1491.7,1315.2Z" fill="#0075A8" stroke="#0075A8" stroke-width="1" stroke-linejoin="round"/>
<path d="M1500.2,892.1 L1491.7,881.0 L1480.6,877.3 L1469.5,871.7 L1460.3,869.9 L1451.1,862.5 L1445.5,871.7 L1441.8,862.5 L1434.4,866.2 L1430.7,879.1 L1425.2,893.9 L1421.5,875.4 L1414.1,869.9 L1408.6,875.4 L1403.0,884.7 L1397.5,897.6 L1391.9,893.9 L1384.6,901.3 L1379.0,910.5 L1373.5,908.7 L1366.1,919.8 L1358.7,927.2 L1355.0,938.3 L1345.8,945.6 L1340.2,958.6 L1332.8,967.8 L1327.3,978.9 L1321.7,986.3 L1316.2,997.4 L1308.8,1008.5 L1303.3,1021.4 L1294.0,1034.3 L1286.6,1047.3 L1281.1,1062.1 L1273.7,1075.0 L1277.4,1086.1 L1270.0,1100.9 L1262.6,1111.9 L1268.1,1115.6 L1262.6,1126.7 L1266.3,1141.5 L1258.9,1152.6 L1253.4,1167.4 L1244.1,1174.8 L1233.0,1180.3 L1218.3,1184.0 L1207.2,1191.4 L1197.9,1200.6 L1188.7,1208.0 L1179.5,1206.2 L1172.1,1211.7 L1175.8,1219.1 L1164.7,1224.7 L1155.4,1226.5 L1168.4,1233.9 L1148.0,1239.4 L1164.7,1245.0 L1159.1,1252.4 L1173.9,1250.5 L1188.7,1241.3 L1183.1,1252.4 L1166.5,1261.6 L1155.4,1263.5 L1170.2,1269.0 L1179.5,1274.5 L1164.7,1281.9 L1162.8,1293.0 L1155.4,1304.1 L1170.2,1296.7 L1166.5,1311.5 L1159.1,1318.9 L1172.1,1317.0 L1164.7,1330.0 L1175.8,1328.1 L1179.5,1337.4 L1186.8,1330.0 L1199.8,1331.8 L1210.9,1300.4 L1225.6,1278.2 L1222.0,1263.5 L1238.6,1256.1 L1246.0,1245.0 L1253.4,1250.5 L1251.5,1233.9 L1262.6,1237.6 L1273.7,1241.3 L1282.9,1237.6 L1281.1,1222.8 L1292.2,1226.5 L1295.9,1222.8 L1288.5,1208.0 L1292.2,1193.2 L1301.4,1200.6 L1295.9,1185.9 L1299.6,1174.8 L1290.3,1165.5 L1282.9,1163.7 L1292.2,1154.4 L1301.4,1158.1 L1305.1,1145.2 L1316.2,1147.1 L1308.8,1128.6 L1314.3,1121.2 L1325.4,1111.9 L1323.6,1100.9 L1332.8,1104.6 L1331.0,1089.8 L1336.5,1078.7 L1345.8,1071.3 L1340.2,1056.5 L1351.3,1049.1 L1362.4,1051.0 L1375.3,1045.4 L1360.5,1032.5 L1373.5,1026.9 L1382.7,1021.4 L1380.9,1008.5 L1390.1,1002.9 L1384.6,990.0 L1397.5,984.4 L1408.6,978.9 L1408.6,967.8 L1421.5,964.1 L1434.4,954.9 L1443.7,942.0 L1451.1,927.2 L1460.3,916.1 L1469.5,908.7 L1484.3,905.7 L1488.0,895.8Z" fill="#0E6669" stroke="#0E6669" stroke-width="1" stroke-linejoin="round"/>
<path d="M1180.0,1770.6 L1187.9,1779.8 L1195.8,1773.2 L1204.9,1760.1 L1219.4,1756.2 L1232.5,1753.5 L1245.7,1750.9 L1258.8,1749.6 L1271.9,1745.7 L1285.0,1743.0 L1298.2,1741.7 L1311.3,1739.1 L1327.1,1736.5 L1342.8,1733.8 L1358.6,1729.9 L1374.3,1726.0 L1387.5,1719.4 L1384.8,1732.5 L1383.5,1740.4 L1391.4,1741.7 L1387.5,1750.9 L1379.6,1756.2 L1369.1,1764.0 L1358.6,1769.3 L1361.2,1779.8 L1359.9,1787.7 L1374.3,1787.7 L1363.8,1795.5 L1350.7,1796.9 L1337.6,1802.1 L1334.9,1806.1 L1327.1,1804.7 L1316.6,1800.8 L1308.7,1802.1 L1295.5,1808.7 L1285.0,1813.9 L1274.5,1816.6 L1264.0,1825.7 L1256.2,1827.1 L1245.7,1823.1 L1236.5,1827.1 L1224.6,1821.8 L1214.1,1817.9 L1203.6,1820.5 L1190.5,1819.2 L1180.0,1827.1 L1166.4,1845.2 L1160.1,1860.0 L1166.4,1873.3 L1176.7,1870.3 L1184.8,1873.3 L1161.9,1882.9 L1139.8,1882.2 L1136.1,1878.5 L1132.4,1867.4 L1117.6,1860.0 L1102.8,1847.0 L1110.2,1836.0 L1121.3,1830.4 L1128.7,1819.3 L1136.1,1808.2 L1137.9,1797.2 L1147.2,1791.6 L1158.2,1786.1 L1169.3,1778.7 L1174.9,1769.4Z" fill="#0E6669" stroke="#0E6669" stroke-width="1" stroke-linejoin="round"/>
<path d="M1337.6,1803.4 L1348.1,1811.3 L1361.2,1816.6 L1369.1,1832.3 L1382.2,1842.8 L1395.3,1850.7 L1411.1,1850.7 L1426.8,1852.0 L1442.6,1858.6 L1455.7,1858.6 L1468.9,1859.9 L1479.4,1869.1 L1487.2,1879.6 L1495.1,1890.1 L1505.6,1900.6 L1521.4,1907.2 L1513.5,1913.7 L1512.2,1921.6 L1518.8,1928.2 L1534.5,1928.2 L1542.4,1937.4 L1552.9,1942.6 L1558.2,1953.1 L1564.7,1966.2 L1558.2,1974.1 L1542.4,1979.4 L1529.3,1983.3 L1518.8,1974.1 L1513.5,1958.4 L1512.2,1942.6 L1508.3,1929.5 L1497.8,1924.2 L1484.6,1919.0 L1482.0,1911.1 L1468.9,1903.2 L1455.7,1892.7 L1442.6,1890.1 L1432.1,1884.8 L1421.6,1880.9 L1411.1,1883.5 L1403.2,1874.3 L1392.7,1867.8 L1382.2,1867.8 L1374.3,1861.2 L1366.4,1853.3 L1363.8,1840.2 L1353.3,1832.3 L1345.4,1821.8 L1340.2,1811.3Z" fill="#0E6669" stroke="#0E6669" stroke-width="1" stroke-linejoin="round"/>
<path d="M1426.8,1691.9 L1432.1,1681.4 L1440.0,1668.3 L1445.2,1659.1 L1458.4,1656.4 L1468.9,1653.8 L1482.0,1652.5 L1487.2,1659.1 L1495.1,1657.8 L1510.9,1657.8 L1524.0,1656.4 L1531.9,1651.2 L1535.8,1653.8 L1534.5,1668.3 L1530.6,1681.4 L1521.4,1687.9 L1510.9,1690.5 L1503.0,1695.8 L1492.5,1698.4 L1482.0,1701.0 L1471.5,1708.9 L1461.0,1714.1 L1447.9,1715.5 L1437.4,1711.5 L1426.8,1710.2 L1416.3,1712.8 L1411.1,1719.4 L1407.2,1720.7 L1411.1,1708.9 L1408.5,1701.0 L1416.3,1695.8Z" fill="#0E6669" stroke="#0E6669" stroke-width="1" stroke-linejoin="round"/>
<path d="M1568.7,1712.8 L1581.8,1707.6 L1594.9,1708.9 L1602.8,1711.5 L1613.3,1703.6 L1623.8,1701.0 L1631.7,1711.5 L1639.6,1722.0 L1647.4,1735.1 L1652.7,1745.7 L1660.6,1758.8 L1665.8,1769.3 L1661.9,1785.0 L1652.7,1792.9 L1642.2,1798.2 L1631.7,1802.1 L1621.2,1798.2 L1610.7,1799.5 L1602.8,1803.4 L1592.3,1808.7 L1579.2,1810.0 L1568.7,1812.6 L1558.2,1813.9 L1556.8,1803.4 L1552.9,1795.5 L1560.8,1792.9 L1563.4,1789.0 L1566.0,1799.5 L1573.9,1795.5 L1579.2,1787.7 L1589.7,1785.0 L1600.2,1786.4 L1613.3,1783.7 L1626.4,1782.4 L1636.9,1777.2 L1644.8,1770.6 L1650.1,1764.0 L1642.2,1764.0 L1631.7,1761.4 L1621.2,1753.5 L1613.3,1743.0 L1605.4,1732.5 L1600.2,1724.6 L1589.7,1728.6 L1579.2,1727.3 L1573.9,1719.4Z" fill="#0E6669" stroke="#0E6669" stroke-width="1" stroke-linejoin="round"/>
<path d="M1550.3,1750.9 L1558.2,1754.8 L1568.7,1753.5 L1576.5,1764.0 L1579.2,1775.9 L1568.7,1774.5 L1558.2,1769.3 L1552.9,1758.8Z" fill="#0E6669" stroke="#0E6669" stroke-width="1" stroke-linejoin="round"/>
<path d="M1564.7,1867.8 L1573.9,1875.6 L1584.4,1884.8 L1597.5,1883.5 L1605.4,1890.1 L1621.2,1887.5 L1636.9,1888.8 L1652.7,1887.5 L1671.1,1882.2 L1655.3,1890.1 L1639.6,1892.7 L1629.1,1895.3 L1623.8,1901.9 L1617.2,1901.9 L1621.2,1895.3 L1610.7,1895.3 L1600.2,1894.0 L1589.7,1890.1 L1579.2,1883.5 L1568.7,1874.3Z" fill="#0E6669" stroke="#0E6669" stroke-width="1" stroke-linejoin="round"/>
<path d="M1592.3,1917.7 L1605.4,1915.0 L1621.2,1919.0 L1636.9,1920.3 L1647.4,1925.5 L1654.0,1933.4 L1644.8,1941.3 L1631.7,1938.7 L1621.2,1942.6 L1610.7,1946.5 L1602.8,1938.7 L1597.5,1926.8Z" fill="#0E6669" stroke="#0E6669" stroke-width="1" stroke-linejoin="round"/>
<path d="M918.0,1897.7 L930.9,1898.6 L946.3,1901.7 L958.6,1907.9 L971.0,1909.4 L983.3,1912.5 L995.6,1910.9 L997.1,1906.3 L1007.9,1914.0 L1018.7,1917.1 L1014.1,1921.7 L1027.9,1929.4 L1027.9,1935.6 L1017.1,1937.1 L1007.9,1941.7 L997.1,1941.7 L998.7,1934.0 L991.0,1940.2 L983.3,1932.5 L974.0,1927.9 L964.8,1924.8 L955.6,1923.3 L954.0,1929.4 L947.9,1927.9 L950.9,1921.7 L943.3,1915.6 L934.0,1907.9 L924.8,1903.3Z" fill="#0E6669" stroke="#0E6669" stroke-width="1" stroke-linejoin="round"/>
<path d="M1320.7,1931.4 L1326.3,1935.1 L1331.8,1944.3 L1337.4,1948.0 L1344.8,1949.9 L1348.4,1959.1 L1342.9,1970.2 L1331.8,1964.7 L1333.7,1955.4 L1326.3,1944.3 L1320.7,1937.0Z" fill="#0E6669" stroke="#0E6669" stroke-width="1" stroke-linejoin="round"/>
<path d="M1884.4,1900.0 L1876.5,1905.3 L1871.3,1913.1 L1860.8,1918.4 L1860.8,1923.6 L1855.5,1931.5 L1845.0,1938.1 L1833.2,1942.0 L1839.8,1947.3 L1831.9,1952.5 L1818.8,1959.1 L1808.3,1963.0 L1803.0,1968.3 L1805.6,1974.8 L1816.1,1973.5 L1818.8,1978.8 L1829.3,1981.4 L1835.8,1989.3 L1831.9,1997.2 L1826.6,2005.0 L1820.1,2012.9 L1821.4,2024.7 L1809.6,2028.7 L1806.9,2039.2 L1813.5,2030.0 L1821.4,2028.7 L1817.4,2039.2 L1813.5,2052.3 L1817.4,2065.4 L1818.8,2052.3 L1824.0,2041.8 L1831.9,2033.9 L1845.0,2028.7 L1847.6,2018.2 L1852.9,2026.1 L1858.2,2033.9 L1866.0,2037.9 L1876.5,2036.6 L1887.0,2039.2 L1889.7,2030.0 L1900.2,2036.6 L1915.9,2043.1 L1921.2,2048.4 L1926.4,2039.2 L1933.0,2043.1 L1936.9,2031.3 L1931.7,2023.4 L1936.9,2018.2 L1944.8,2012.9 L1955.3,2005.0 L1963.2,1997.2 L1971.1,1986.7 L1978.9,1973.5 L1985.5,1957.8 L1986.8,1968.3 L1992.1,1963.0 L1994.7,1953.8 L2005.2,1961.7 L2018.3,1960.4 L2031.5,1955.1 L2042.0,1947.3 L2049.9,1948.6 L2057.7,1942.0 L2070.9,1934.1 L2080.1,1928.9 L2078.1,1929.6 L2076.3,1940.7 L2065.2,1951.7 L2054.1,1959.1 L2043.0,1968.4 L2050.4,1972.1 L2044.9,1985.0 L2035.6,1996.1 L2028.2,2010.9 L2043.0,1999.8 L2057.8,1992.4 L2076.3,1988.7 L2094.8,1985.0 L2109.5,1973.9 L2120.6,1961.0 L2135.4,1955.4 L2150.2,1948.0 L2161.3,1935.1 L2183.4,1927.7 L2200.1,1920.3 L2203.9,1922.8 L2222.4,1915.4 L2231.6,1902.5 L2220.5,1896.9 L2207.6,1885.8 L2203.9,1871.1 L2192.8,1856.3 L2183.6,1841.5 L2190.9,1824.9 L2183.6,1811.9 L2166.9,1815.6 L2154.0,1810.1 L2150.3,1795.3 L2133.7,1787.9 L2115.2,1784.2 L2105.9,1804.5 L2104.1,1823.0 L2085.6,1834.1 L2063.5,1852.6 L2048.7,1867.4 L2026.5,1874.8 L2004.3,1882.2 L1989.5,1893.2 L1967.4,1882.2 L1956.3,1885.8 L1945.2,1874.8 L1930.4,1878.5 L1911.9,1885.8 L1893.5,1896.9Z" fill="#0E6669" stroke="#0E6669" stroke-width="1" stroke-linejoin="round"/>
<path d="M759.0,938.0 L770.1,942.4 L772.0,960.9 L764.6,977.5 L777.5,977.5 L788.6,967.5 L792.3,979.3 L805.2,973.8 L812.6,983.0 L823.7,977.5 L832.9,984.9 L845.9,977.5 L855.1,979.3 L856.9,992.3 L866.2,990.4 L862.5,1005.2 L868.0,1012.6 L871.7,1025.5 L866.2,1038.5 L856.9,1049.6 L842.2,1058.8 L823.7,1062.5 L805.2,1066.2 L790.4,1068.0 L775.6,1069.9 L760.9,1064.3 L749.8,1053.3 L742.4,1038.5 L735.0,1027.4 L716.5,1026.6 L729.5,1018.1 L735.0,1005.2 L733.1,994.1 L718.4,986.0 L736.8,983.0 L747.9,986.7 L757.2,975.6 L749.8,964.6 L735.0,962.7 L722.1,957.2 L738.7,949.8 L749.8,942.4Z" fill="#A6A6A6" stroke="#A6A6A6" stroke-width="1" stroke-linejoin="round"/>
<path d="M1726.8,1936.8 L1740.0,1931.5 L1758.4,1928.9 L1771.5,1932.8 L1784.6,1931.5 L1768.9,1939.4 L1758.4,1947.3 L1768.9,1949.9 L1753.1,1955.1 L1737.4,1956.5 L1724.2,1960.4 L1713.7,1964.3 L1720.3,1952.5 L1721.6,1943.3Z" fill="#fff"/>
<path d="M1856.5,1710.3 L1871.3,1686.3 L1886.1,1671.5 L1900.8,1653.0 L1919.3,1641.9 L1934.1,1630.9 L1948.9,1621.6 L1952.6,1629.0 L1937.8,1645.6 L1926.7,1656.7 L1948.9,1668.6 L1937.8,1675.2 L1934.1,1693.7 L1939.7,1704.0 L1923.0,1706.6 L1899.0,1710.3 L1886.1,1723.2 L1873.1,1725.1 L1860.2,1715.9Z" fill="#fff"/>
<path d="M2078.2,1422.1 L2104.1,1431.3 L2111.5,1420.2 L2115.2,1460.9 L2141.1,1503.4 L2120.7,1512.6 L2115.2,1499.7 L2091.2,1501.5 L2085.6,1468.3 L2076.4,1446.1Z" fill="#fff"/>
<path d="M1500.2,892.1 L1484.3,905.7 L1476.9,927.2 L1486.2,945.6 L1501.0,958.6 L1512.0,967.8 L1508.4,993.7 L1517.6,1012.2 L1530.5,1032.5 L1534.2,1056.5 L1547.2,1075.0 L1560.1,1089.8 L1558.2,1104.6 L1576.7,1111.9 L1589.7,1123.0 L1589.7,1145.2 L1580.4,1171.1 L1571.2,1196.9 L1560.1,1221.0 L1553.8,1232.0" fill="none" stroke="#fff" stroke-width="1.8" stroke-linejoin="round"/>
<path d="M1569.3,1270.8 L1567.5,1289.3 L1574.9,1315.2 L1573.0,1337.4 L1584.1,1355.8 L1591.5,1370.6 L1602.6,1385.4 L1602.8,1382.0 L1596.2,1401.7 L1581.8,1409.6 L1576.5,1418.8 L1583.1,1426.7 L1573.9,1434.5 L1567.3,1447.7 L1566.0,1463.4 L1558.2,1471.3 L1550.3,1479.2 L1542.4,1483.1 L1526.6,1487.1 L1530.6,1502.8 L1538.5,1518.6 L1541.1,1531.7 L1531.9,1542.2 L1529.3,1550.1 L1539.8,1556.6 L1542.4,1571.1 L1547.6,1584.2 L1555.5,1598.7 L1560.8,1610.5 L1552.9,1623.6 L1546.3,1636.7 L1539.8,1649.9 L1534.5,1655.1 L1537.1,1668.3 L1533.2,1678.8 L1530.6,1691.9 L1529.3,1689.2 L1533.2,1695.8 L1542.4,1704.9 L1552.9,1711.5 L1560.8,1706.3 L1573.9,1703.6 L1584.4,1706.3 L1594.9,1704.9 L1608.0,1706.3 L1615.9,1698.4 L1626.4,1694.4 L1635.6,1687.9 L1644.8,1681.3 L1652.7,1687.9 L1663.2,1698.4 L1673.7,1708.9 L1684.2,1722.0 L1692.1,1735.1 L1696.0,1750.9 L1701.3,1766.7 L1707.8,1777.2 L1718.3,1779.8 L1728.8,1773.2 L1736.7,1769.3" fill="none" stroke="#fff" stroke-width="1.8" stroke-linejoin="round"/>
</g>
<path d="M992.3,1018.0 a31.1,31.1 0 0 0 42.75,0 a31.1,31.1 0 0 0 42.75,0 a31.1,31.1 0 0 0 42.75,0" fill="none" stroke="#0075A8" stroke-width="4.7" stroke-linecap="butt" stroke-linejoin="miter"/>
<path d="M992.3,1054.0 a31.1,31.1 0 0 0 42.75,0 a31.1,31.1 0 0 0 42.75,0 a31.1,31.1 0 0 0 42.75,0" fill="none" stroke="#0075A8" stroke-width="4.7" stroke-linecap="butt" stroke-linejoin="miter"/>
<path d="M641.4,1659.0 a31.1,31.1 0 0 0 42.75,0 a31.1,31.1 0 0 0 42.75,0 a31.1,31.1 0 0 0 42.75,0" fill="none" stroke="#0075A8" stroke-width="4.7" stroke-linecap="butt" stroke-linejoin="miter"/>
<path d="M641.4,1695.0 a31.1,31.1 0 0 0 42.75,0 a31.1,31.1 0 0 0 42.75,0 a31.1,31.1 0 0 0 42.75,0" fill="none" stroke="#0075A8" stroke-width="4.7" stroke-linecap="butt" stroke-linejoin="miter"/>
<path d="M1408.9,2190.3 a31.1,31.1 0 0 0 42.75,0 a31.1,31.1 0 0 0 42.75,0 a31.1,31.1 0 0 0 42.75,0" fill="none" stroke="#0075A8" stroke-width="4.7" stroke-linecap="butt" stroke-linejoin="miter"/>
<path d="M1408.9,2226.3 a31.1,31.1 0 0 0 42.75,0 a31.1,31.1 0 0 0 42.75,0 a31.1,31.1 0 0 0 42.75,0" fill="none" stroke="#0075A8" stroke-width="4.7" stroke-linecap="butt" stroke-linejoin="miter"/>
<path d="M1709.4,2190.3 a31.1,31.1 0 0 0 42.75,0 a31.1,31.1 0 0 0 42.75,0 a31.1,31.1 0 0 0 42.75,0" fill="none" stroke="#0075A8" stroke-width="4.7" stroke-linecap="butt" stroke-linejoin="miter"/>
<path d="M1709.4,2226.3 a31.1,31.1 0 0 0 42.75,0 a31.1,31.1 0 0 0 42.75,0 a31.1,31.1 0 0 0 42.75,0" fill="none" stroke="#0075A8" stroke-width="4.7" stroke-linecap="butt" stroke-linejoin="miter"/>
<defs><clipPath id="ic8"><circle cx="809" cy="815.5" r="727"/></clipPath><clipPath id="ic13"><circle cx="809" cy="815.5" r="727"/></clipPath><clipPath id="ic14"><circle cx="816.5" cy="815" r="727"/></clipPath><clipPath id="ic17"><circle cx="809" cy="811.5" r="727"/></clipPath><clipPath id="ic19"><circle cx="809" cy="816.5" r="727"/></clipPath><clipPath id="ic20"><circle cx="811.5" cy="815.5" r="727"/></clipPath><clipPath id="ic21"><circle cx="811.5" cy="816.5" r="727"/></clipPath><clipPath id="ic23"><circle cx="812.5" cy="816.5" r="727"/></clipPath><clipPath id="ic26"><circle cx="810" cy="811.5" r="709"/></clipPath><clipPath id="ic27"><circle cx="811.5" cy="816.5" r="709"/></clipPath></defs>
<circle cx="544.5" cy="1030.2" r="80.6" fill="#BEE3F8"/>
<g transform="translate(544.5 1030.2) scale(0.11084) translate(-816.5 -814)"><g transform="translate(0 0)"><path d="M716,1050 V375 A71,71 0 0 1 859,375 V1050 A143,143 0 1 1 716,1050 Z" fill="none" stroke="#000" stroke-width="42" stroke-linejoin='round'/><path d="M786,595 V1140" fill="none" stroke="#000" stroke-width="38" stroke-linecap='round'/><circle cx="786" cy="1140" r="61" fill="#000"/></g></g>
<g transform="translate(589.5 992.2)"><circle r="16.1" fill="#fff" stroke="#000" stroke-width="4.4"/><path d="M-8.6,8.2 L7.4,-7.6 M-9.9,-7.4 L8.1,-8.1 L7.4,9.1" fill="none" stroke="#000" stroke-width="2.9" stroke-linecap="butt" stroke-linejoin="miter"/></g>
<circle cx="662.5" cy="900.3" r="80.6" fill="#BEE3F8"/>
<g transform="translate(662.5 900.3) scale(0.11084) translate(-816.5 -823.5)"><path d="M455,280 L640,465 V585 L740,680" fill="none" stroke="#000" stroke-width="22" stroke-linecap='round' stroke-linejoin='miter'/><path d="M1128,280 L948,465 V585 L848,680" fill="none" stroke="#000" stroke-width="22" stroke-linecap='round' stroke-linejoin='miter'/><path d="M272,587 H478 L585,693 H740" fill="none" stroke="#000" stroke-width="22" stroke-linecap='round' stroke-linejoin='miter'/><path d="M1310,587 H1105 L1000,693 H848" fill="none" stroke="#000" stroke-width="22" stroke-linecap='round' stroke-linejoin='miter'/><path d="M487,1312 L648,1150 V1005 L740,915" fill="none" stroke="#000" stroke-width="22" stroke-linecap='round' stroke-linejoin='miter'/><path d="M1095,1312 L937,1150 V1005 L848,915" fill="none" stroke="#000" stroke-width="22" stroke-linecap='round' stroke-linejoin='miter'/><path d="M793,438 V520" fill="none" stroke="#000" stroke-width="22" stroke-linecap='round'/><path d="M723,592 A70,70 0 0 1 863,592 Z" fill="none" stroke="#000" stroke-width="22" stroke-linejoin='round'/><rect x="746" y="623" width="88" height="422" rx="44" fill="none" stroke="#000" stroke-width="36" /><path d="M742,712 L452,862 A74,74 0 0 0 548,988 L742,808" fill="none" stroke="#000" stroke-width="38" stroke-linejoin='round'/><path d="M844,712 L1134,862 A74,74 0 0 1 1038,988 L844,808" fill="none" stroke="#000" stroke-width="38" stroke-linejoin='round'/></g>
<circle cx="798.4" cy="790.2" r="80.6" fill="#BEE3F8"/>
<g transform="translate(798.4 790.2) scale(0.11084) translate(-815.5 -814)"><path d="M715,322 C720,335 744,375 742,400 C740,425 720,450 700,470 C680,490 642,498 620,520 C598,542 573,567 565,600 C557,633 571,687 570,720 C569,753 570,777 560,800 C550,823 527,851 510,858 C493,865 473,856 460,840 C447,824 434,789 430,760 C426,731 436,683 437,668 C426,687 385,733 372,780 C359,827 349,892 357,950 C365,1008 386,1078 420,1130 C454,1182 510,1231 560,1260 C610,1289 667,1303 720,1305 C773,1307 830,1294 880,1270 C930,1246 983,1208 1020,1160 C1057,1112 1085,1040 1100,980 C1115,920 1118,857 1110,800 C1102,743 1073,682 1052,640 C1031,598 996,561 985,545 C985,558 989,596 987,620 C985,644 984,670 975,690 C966,710 948,731 930,740 C912,749 889,750 870,742 C851,734 828,714 815,690 C802,666 796,632 795,600 C794,568 806,530 808,500 C810,470 816,443 810,420 C804,397 791,376 775,360 C759,344 725,328 715,322 Z" fill="none" stroke="#000" stroke-width="40" stroke-linejoin='miter' stroke-miterlimit='4.5'/><path d="M715,592 C706,603 673,635 662,660 C651,685 645,708 650,740 C655,772 677,812 690,850 C703,888 725,938 730,970 C735,1002 732,1024 720,1040 C708,1056 682,1065 660,1065 C638,1065 609,1054 590,1040 C571,1026 556,1000 545,980 C534,960 528,932 525,922 C521,935 502,970 500,1000 C498,1030 497,1067 510,1100 C523,1133 545,1176 580,1200 C615,1224 673,1245 720,1245 C767,1245 823,1222 860,1200 C897,1178 924,1142 940,1110 C956,1078 962,1045 955,1010 C948,975 926,937 900,900 C874,863 828,825 800,790 C772,755 744,723 730,690 C716,657 718,608 715,592 Z" fill="none" stroke="#000" stroke-width="40" stroke-linejoin='miter' stroke-miterlimit='4.5'/></g>
<g transform="translate(843.4 752.2)"><circle r="16.1" fill="#fff" stroke="#000" stroke-width="4.4"/><path d="M-8.6,8.2 L7.4,-7.6 M-9.9,-7.4 L8.1,-8.1 L7.4,9.1" fill="none" stroke="#000" stroke-width="2.9" stroke-linecap="butt" stroke-linejoin="miter"/></g>
<circle cx="956.2" cy="710.7" r="80.6" fill="#BEE3F8"/>
<g transform="translate(956.2 710.7) scale(0.11084) translate(-814 -818.5)"><path d="M355,752 A146,146 0 0 1 395,468 A105,105 0 0 1 578,412 A168,168 0 0 1 903,468 A144,144 0 0 1 910,752 Z" fill="none" stroke="#000" stroke-width="46" stroke-linejoin='miter'/><path d="M503,838 L925,1262" fill="none" stroke="#000" stroke-width="38" stroke-linecap='round'/><path d="M603,838 L905,1140" fill="none" stroke="#000" stroke-width="38" stroke-linecap='round'/><path d="M703,838 L880,1017" fill="none" stroke="#000" stroke-width="38" stroke-linecap='round'/><path d="M803,838 L860,895" fill="none" stroke="#000" stroke-width="38" stroke-linecap='round'/></g>
<g transform="translate(1001.2 672.7)"><circle r="16.1" fill="#fff" stroke="#000" stroke-width="4.4"/><path d="M-8.2,-8.3 L7.6,7.5 M7.0,-9.2 L7.9,7.9 L-9.7,6.9" fill="none" stroke="#000" stroke-width="2.9" stroke-linecap="butt" stroke-linejoin="miter"/></g>
<circle cx="1297.1" cy="630.4" r="80.6" fill="#0075A8"/>
<g transform="translate(1297.1 630.4) scale(0.11084) translate(-812.5 -806.5)"><path d="M205,728 A351,351 0 0 1 900,625 Z" fill="none" stroke="#fff" stroke-width="46" stroke-linejoin='round'/><path d="M497,322 L492,272" fill="none" stroke="#fff" stroke-width="46" stroke-linecap='round'/><path d="M563,700 L643,1240" fill="none" stroke="#fff" stroke-width="44" /><path d="M455,1015 H1230" fill="none" stroke="#fff" stroke-width="46" stroke-linecap='round'/><path d="M1000,1127 H1315" fill="none" stroke="#fff" stroke-width="46" stroke-linecap='round'/><path d="M362,1258 H1230" fill="none" stroke="#fff" stroke-width="46" stroke-linecap='round'/></g>
<g transform="translate(1342.1 592.4)"><circle r="16.1" fill="#fff" stroke="#000" stroke-width="4.4"/><path d="M-8.6,8.2 L7.4,-7.6 M-9.9,-7.4 L8.1,-8.1 L7.4,9.1" fill="none" stroke="#000" stroke-width="2.9" stroke-linecap="butt" stroke-linejoin="miter"/></g>
<circle cx="1472.7" cy="636.1" r="80.6" fill="#0075A8"/>
<g transform="translate(1472.7 636.1) scale(0.11084) translate(-809 -812.5)"><g transform="rotate(0 752 848)"><path d="M752,848 V460" fill="none" stroke="#fff" stroke-width="46" stroke-linecap='round'/><path d="M634,492 L752,602 L870,492" fill="none" stroke="#fff" stroke-width="46" stroke-linecap='round' stroke-linejoin='miter'/></g><g transform="rotate(60 752 848)"><path d="M752,848 V460" fill="none" stroke="#fff" stroke-width="46" stroke-linecap='round'/><path d="M634,492 L752,602 L870,492" fill="none" stroke="#fff" stroke-width="46" stroke-linecap='round' stroke-linejoin='miter'/></g><g transform="rotate(120 752 848)"><path d="M752,848 V460" fill="none" stroke="#fff" stroke-width="46" stroke-linecap='round'/><path d="M634,492 L752,602 L870,492" fill="none" stroke="#fff" stroke-width="46" stroke-linecap='round' stroke-linejoin='miter'/></g><g transform="rotate(180 752 848)"><path d="M752,848 V460" fill="none" stroke="#fff" stroke-width="46" stroke-linecap='round'/><path d="M634,492 L752,602 L870,492" fill="none" stroke="#fff" stroke-width="46" stroke-linecap='round' stroke-linejoin='miter'/></g><g transform="rotate(240 752 848)"><path d="M752,848 V460" fill="none" stroke="#fff" stroke-width="46" stroke-linecap='round'/><path d="M634,492 L752,602 L870,492" fill="none" stroke="#fff" stroke-width="46" stroke-linecap='round' stroke-linejoin='miter'/></g><g transform="rotate(300 752 848)"><path d="M752,848 V460" fill="none" stroke="#fff" stroke-width="46" stroke-linecap='round'/><path d="M634,492 L752,602 L870,492" fill="none" stroke="#fff" stroke-width="46" stroke-linecap='round' stroke-linejoin='miter'/></g></g>
<g transform="translate(1517.7 598.1)"><circle r="16.1" fill="#fff" stroke="#000" stroke-width="4.4"/><path d="M-8.2,-8.3 L7.6,7.5 M7.0,-9.2 L7.9,7.9 L-9.7,6.9" fill="none" stroke="#000" stroke-width="2.9" stroke-linecap="butt" stroke-linejoin="miter"/></g>
<circle cx="1644.7" cy="671.4" r="80.6" fill="#0075A8"/>
<g transform="translate(1644.7 671.4) scale(0.11084) translate(-809 -815.5)"><path d="M762,455 V1375" fill="none" stroke="#fff" stroke-width="46" stroke-linecap='round'/><path d="M563,372 V895 A199,199 0 0 0 762,1095 A199,199 0 0 0 960,895 V372" fill="none" stroke="#fff" stroke-width="46" stroke-linecap='round'/><path d="M563,597 A190,170 0 0 1 762,769" fill="none" stroke="#fff" stroke-width="46" /><path d="M960,597 A190,170 0 0 0 762,769" fill="none" stroke="#fff" stroke-width="46" /><path d="M563,785 A190,170 0 0 1 762,957" fill="none" stroke="#fff" stroke-width="46" /><path d="M960,785 A190,170 0 0 0 762,957" fill="none" stroke="#fff" stroke-width="46" /></g>
<g transform="translate(1689.7 633.4)"><circle r="16.1" fill="#fff" stroke="#000" stroke-width="4.4"/><path d="M-8.6,8.2 L7.4,-7.6 M-9.9,-7.4 L8.1,-8.1 L7.4,9.1" fill="none" stroke="#000" stroke-width="2.9" stroke-linecap="butt" stroke-linejoin="miter"/></g>
<circle cx="1808.0" cy="735.7" r="80.6" fill="#0075A8"/>
<g transform="translate(1808.0 735.7) scale(0.11084) translate(-814 -818.5)"><path d="M355,752 A146,146 0 0 1 395,468 A105,105 0 0 1 578,412 A168,168 0 0 1 903,468 A144,144 0 0 1 910,752 Z" fill="none" stroke="#fff" stroke-width="46" stroke-linejoin='miter'/><path d="M503,838 L925,1262" fill="none" stroke="#fff" stroke-width="38" stroke-linecap='round'/><path d="M603,838 L905,1140" fill="none" stroke="#fff" stroke-width="38" stroke-linecap='round'/><path d="M703,838 L880,1017" fill="none" stroke="#fff" stroke-width="38" stroke-linecap='round'/><path d="M803,838 L860,895" fill="none" stroke="#fff" stroke-width="38" stroke-linecap='round'/></g>
<g transform="translate(1853.0 697.7)"><circle r="16.1" fill="#fff" stroke="#000" stroke-width="4.4"/><path d="M-8.6,8.2 L7.4,-7.6 M-9.9,-7.4 L8.1,-8.1 L7.4,9.1" fill="none" stroke="#000" stroke-width="2.9" stroke-linecap="butt" stroke-linejoin="miter"/></g>
<circle cx="2152.7" cy="1011.4" r="80.6" fill="#8AB92D"/>
<g transform="translate(2152.7 1011.4) scale(0.11084) translate(-809 -815.5)"><path d="M470,855 A203,203 0 0 1 515,452 A161.7,161.7 0 1 1 838,452 A203,203 0 0 1 885,855 Z" fill="none" stroke="#000" stroke-width="42" /><path d="M675,505 V1175" fill="none" stroke="#000" stroke-width="42" stroke-linecap='round'/><path d="M505,635 L675,800 L848,635" fill="none" stroke="#000" stroke-width="42" stroke-linecap='square'/><g clip-path="url(#ic8)"><path d="M-149,1083 C-131,1049 -105,1039 -83,1045 C-43,1055 -51,1192 25,1192 C75,1192 85,1126 103,1067 M71,1083 C89,1049 115,1039 137,1045 C177,1055 169,1192 245,1192 C295,1192 305,1126 323,1067 M291,1083 C309,1049 335,1039 357,1045 C397,1055 389,1192 465,1192 C515,1192 525,1126 543,1067 M511,1083 C529,1049 555,1039 577,1045 C617,1055 609,1192 685,1192 C735,1192 745,1126 763,1067 M731,1083 C749,1049 775,1039 797,1045 C837,1055 829,1192 905,1192 C955,1192 965,1126 983,1067 M951,1083 C969,1049 995,1039 1017,1045 C1057,1055 1049,1192 1125,1192 C1175,1192 1185,1126 1203,1067 M1171,1083 C1189,1049 1215,1039 1237,1045 C1277,1055 1269,1192 1345,1192 C1395,1192 1405,1126 1423,1067 M1391,1083 C1409,1049 1435,1039 1457,1045 C1497,1055 1489,1192 1565,1192 C1615,1192 1625,1126 1643,1067 M1611,1083 C1629,1049 1655,1039 1677,1045 C1717,1055 1709,1192 1785,1192 C1835,1192 1845,1126 1863,1067" fill="none" stroke="#000" stroke-width="42" /><path d="M83,1297 C101,1266 127,1257 149,1262 C189,1272 181,1398 257,1398 C307,1398 317,1337 335,1282 M301,1297 C319,1266 345,1257 367,1262 C407,1272 399,1398 475,1398 C525,1398 535,1337 553,1282 M519,1297 C537,1266 563,1257 585,1262 C625,1272 617,1398 693,1398 C743,1398 753,1337 771,1282 M737,1297 C755,1266 781,1257 803,1262 C843,1272 835,1398 911,1398 C961,1398 971,1337 989,1282 M955,1297 C973,1266 999,1257 1021,1262 C1061,1272 1053,1398 1129,1398 C1179,1398 1189,1337 1207,1282 M1173,1297 C1191,1266 1217,1257 1239,1262 C1279,1272 1271,1398 1347,1398 C1397,1398 1407,1337 1425,1282 M1391,1297 C1409,1266 1435,1257 1457,1262 C1497,1272 1489,1398 1565,1398 C1615,1398 1625,1337 1643,1282" fill="none" stroke="#000" stroke-width="42" /></g></g>
<g transform="translate(2197.7 973.4)"><circle r="16.1" fill="#fff" stroke="#000" stroke-width="4.4"/><path d="M-8.6,8.2 L7.4,-7.6 M-9.9,-7.4 L8.1,-8.1 L7.4,9.1" fill="none" stroke="#000" stroke-width="2.9" stroke-linecap="butt" stroke-linejoin="miter"/></g>
<circle cx="2256.8" cy="1187.5" r="80.6" fill="#8AB92D"/>
<g transform="translate(2256.8 1187.5) scale(0.11084) translate(-816.5 -814)"><g transform="translate(0 0)"><path d="M716,1050 V375 A71,71 0 0 1 859,375 V1050 A143,143 0 1 1 716,1050 Z" fill="none" stroke="#000" stroke-width="42" stroke-linejoin='round'/><path d="M786,595 V1140" fill="none" stroke="#000" stroke-width="38" stroke-linecap='round'/><circle cx="786" cy="1140" r="61" fill="#000"/></g></g>
<g transform="translate(2301.8 1149.5)"><circle r="16.1" fill="#fff" stroke="#000" stroke-width="4.4"/><path d="M-8.6,8.2 L7.4,-7.6 M-9.9,-7.4 L8.1,-8.1 L7.4,9.1" fill="none" stroke="#000" stroke-width="2.9" stroke-linecap="butt" stroke-linejoin="miter"/></g>
<circle cx="2324.0" cy="1351.3" r="80.6" fill="#8AB92D"/>
<g transform="translate(2324.0 1351.3) scale(0.11084) translate(-815.5 -814)"><path d="M715,322 C720,335 744,375 742,400 C740,425 720,450 700,470 C680,490 642,498 620,520 C598,542 573,567 565,600 C557,633 571,687 570,720 C569,753 570,777 560,800 C550,823 527,851 510,858 C493,865 473,856 460,840 C447,824 434,789 430,760 C426,731 436,683 437,668 C426,687 385,733 372,780 C359,827 349,892 357,950 C365,1008 386,1078 420,1130 C454,1182 510,1231 560,1260 C610,1289 667,1303 720,1305 C773,1307 830,1294 880,1270 C930,1246 983,1208 1020,1160 C1057,1112 1085,1040 1100,980 C1115,920 1118,857 1110,800 C1102,743 1073,682 1052,640 C1031,598 996,561 985,545 C985,558 989,596 987,620 C985,644 984,670 975,690 C966,710 948,731 930,740 C912,749 889,750 870,742 C851,734 828,714 815,690 C802,666 796,632 795,600 C794,568 806,530 808,500 C810,470 816,443 810,420 C804,397 791,376 775,360 C759,344 725,328 715,322 Z" fill="none" stroke="#000" stroke-width="40" stroke-linejoin='miter' stroke-miterlimit='4.5'/><path d="M715,592 C706,603 673,635 662,660 C651,685 645,708 650,740 C655,772 677,812 690,850 C703,888 725,938 730,970 C735,1002 732,1024 720,1040 C708,1056 682,1065 660,1065 C638,1065 609,1054 590,1040 C571,1026 556,1000 545,980 C534,960 528,932 525,922 C521,935 502,970 500,1000 C498,1030 497,1067 510,1100 C523,1133 545,1176 580,1200 C615,1224 673,1245 720,1245 C767,1245 823,1222 860,1200 C897,1178 924,1142 940,1110 C956,1078 962,1045 955,1010 C948,975 926,937 900,900 C874,863 828,825 800,790 C772,755 744,723 730,690 C716,657 718,608 715,592 Z" fill="none" stroke="#000" stroke-width="40" stroke-linejoin='miter' stroke-miterlimit='4.5'/></g>
<g transform="translate(2369.0 1313.3)"><circle r="16.1" fill="#fff" stroke="#000" stroke-width="4.4"/><path d="M-8.6,8.2 L7.4,-7.6 M-9.9,-7.4 L8.1,-8.1 L7.4,9.1" fill="none" stroke="#000" stroke-width="2.9" stroke-linecap="butt" stroke-linejoin="miter"/></g>
<circle cx="2357.7" cy="1502.0" r="80.6" fill="#8AB92D"/>
<g transform="translate(2357.7 1502.0) scale(0.11084) translate(-814 -818.5)"><path d="M355,752 A146,146 0 0 1 395,468 A105,105 0 0 1 578,412 A168,168 0 0 1 903,468 A144,144 0 0 1 910,752 Z" fill="none" stroke="#000" stroke-width="46" stroke-linejoin='miter'/><path d="M503,838 L925,1262" fill="none" stroke="#000" stroke-width="38" stroke-linecap='round'/><path d="M603,838 L905,1140" fill="none" stroke="#000" stroke-width="38" stroke-linecap='round'/><path d="M703,838 L880,1017" fill="none" stroke="#000" stroke-width="38" stroke-linecap='round'/><path d="M803,838 L860,895" fill="none" stroke="#000" stroke-width="38" stroke-linecap='round'/></g>
<g transform="translate(2402.7 1464.0)"><circle r="16.1" fill="#fff" stroke="#000" stroke-width="4.4"/><path d="M-8.2,-8.3 L7.6,7.5 M7.0,-9.2 L7.9,7.9 L-9.7,6.9" fill="none" stroke="#000" stroke-width="2.9" stroke-linecap="butt" stroke-linejoin="miter"/></g>
<circle cx="2361.2" cy="1794.4" r="80.6" fill="#8AD0F5"/>
<g transform="translate(2361.2 1794.4) scale(0.11084) translate(-814 -815.5)"><g transform="translate(2 -4)"><path d="M355,752 A146,146 0 0 1 395,468 A105,105 0 0 1 578,412 A168,168 0 0 1 903,468 A144,144 0 0 1 910,752 Z" fill="none" stroke="#000" stroke-width="46" /></g><path d="M580,768 L410,965 H555 L340,1335 L780,885 H620 L735,768" fill="none" stroke="#000" stroke-width="38" stroke-linejoin='round' stroke-linecap='round'/></g>
<g transform="translate(2406.2 1756.4)"><circle r="16.1" fill="#fff" stroke="#000" stroke-width="4.4"/><path d="M-8.6,8.2 L7.4,-7.6 M-9.9,-7.4 L8.1,-8.1 L7.4,9.1" fill="none" stroke="#000" stroke-width="2.9" stroke-linecap="butt" stroke-linejoin="miter"/></g>
<circle cx="2322.3" cy="1965.8" r="80.6" fill="#8AD0F5"/>
<g transform="translate(2322.3 1965.8) scale(0.11084) translate(-809 -815.5)"><path d="M470,855 A203,203 0 0 1 515,452 A161.7,161.7 0 1 1 838,452 A203,203 0 0 1 885,855 Z" fill="none" stroke="#000" stroke-width="42" /><path d="M675,505 V1175" fill="none" stroke="#000" stroke-width="42" stroke-linecap='round'/><path d="M505,635 L675,800 L848,635" fill="none" stroke="#000" stroke-width="42" stroke-linecap='square'/><g clip-path="url(#ic13)"><path d="M-149,1083 C-131,1049 -105,1039 -83,1045 C-43,1055 -51,1192 25,1192 C75,1192 85,1126 103,1067 M71,1083 C89,1049 115,1039 137,1045 C177,1055 169,1192 245,1192 C295,1192 305,1126 323,1067 M291,1083 C309,1049 335,1039 357,1045 C397,1055 389,1192 465,1192 C515,1192 525,1126 543,1067 M511,1083 C529,1049 555,1039 577,1045 C617,1055 609,1192 685,1192 C735,1192 745,1126 763,1067 M731,1083 C749,1049 775,1039 797,1045 C837,1055 829,1192 905,1192 C955,1192 965,1126 983,1067 M951,1083 C969,1049 995,1039 1017,1045 C1057,1055 1049,1192 1125,1192 C1175,1192 1185,1126 1203,1067 M1171,1083 C1189,1049 1215,1039 1237,1045 C1277,1055 1269,1192 1345,1192 C1395,1192 1405,1126 1423,1067 M1391,1083 C1409,1049 1435,1039 1457,1045 C1497,1055 1489,1192 1565,1192 C1615,1192 1625,1126 1643,1067 M1611,1083 C1629,1049 1655,1039 1677,1045 C1717,1055 1709,1192 1785,1192 C1835,1192 1845,1126 1863,1067" fill="none" stroke="#000" stroke-width="42" /><path d="M83,1297 C101,1266 127,1257 149,1262 C189,1272 181,1398 257,1398 C307,1398 317,1337 335,1282 M301,1297 C319,1266 345,1257 367,1262 C407,1272 399,1398 475,1398 C525,1398 535,1337 553,1282 M519,1297 C537,1266 563,1257 585,1262 C625,1272 617,1398 693,1398 C743,1398 753,1337 771,1282 M737,1297 C755,1266 781,1257 803,1262 C843,1272 835,1398 911,1398 C961,1398 971,1337 989,1282 M955,1297 C973,1266 999,1257 1021,1262 C1061,1272 1053,1398 1129,1398 C1179,1398 1189,1337 1207,1282 M1173,1297 C1191,1266 1217,1257 1239,1262 C1279,1272 1271,1398 1347,1398 C1397,1398 1407,1337 1425,1282 M1391,1297 C1409,1266 1435,1257 1457,1262 C1497,1272 1489,1398 1565,1398 C1615,1398 1625,1337 1643,1282" fill="none" stroke="#000" stroke-width="42" /></g></g>
<g transform="translate(2367.3 1927.8)"><circle r="16.1" fill="#fff" stroke="#000" stroke-width="4.4"/><path d="M-8.6,8.2 L7.4,-7.6 M-9.9,-7.4 L8.1,-8.1 L7.4,9.1" fill="none" stroke="#000" stroke-width="2.9" stroke-linecap="butt" stroke-linejoin="miter"/></g>
<circle cx="2250.5" cy="2130.3" r="80.6" fill="#8AD0F5"/>
<g transform="translate(2250.5 2130.3) scale(0.11084) translate(-816.5 -815)"><path d="M258,805 L690,375 L1150,835" fill="none" stroke="#000" stroke-width="44" stroke-linecap='square'/><path d="M825,478 V390 H925 V595" fill="none" stroke="#000" stroke-width="42" /><path d="M397,860 V1170 M1012,860 V1170" fill="none" stroke="#000" stroke-width="42" stroke-linecap='round'/><g transform="translate(10 0)"><g clip-path="url(#ic14)"><path d="M-149,1083 C-131,1049 -105,1039 -83,1045 C-43,1055 -51,1192 25,1192 C75,1192 85,1126 103,1067 M71,1083 C89,1049 115,1039 137,1045 C177,1055 169,1192 245,1192 C295,1192 305,1126 323,1067 M291,1083 C309,1049 335,1039 357,1045 C397,1055 389,1192 465,1192 C515,1192 525,1126 543,1067 M511,1083 C529,1049 555,1039 577,1045 C617,1055 609,1192 685,1192 C735,1192 745,1126 763,1067 M731,1083 C749,1049 775,1039 797,1045 C837,1055 829,1192 905,1192 C955,1192 965,1126 983,1067 M951,1083 C969,1049 995,1039 1017,1045 C1057,1055 1049,1192 1125,1192 C1175,1192 1185,1126 1203,1067 M1171,1083 C1189,1049 1215,1039 1237,1045 C1277,1055 1269,1192 1345,1192 C1395,1192 1405,1126 1423,1067 M1391,1083 C1409,1049 1435,1039 1457,1045 C1497,1055 1489,1192 1565,1192 C1615,1192 1625,1126 1643,1067 M1611,1083 C1629,1049 1655,1039 1677,1045 C1717,1055 1709,1192 1785,1192 C1835,1192 1845,1126 1863,1067" fill="none" stroke="#000" stroke-width="42" /><path d="M83,1297 C101,1266 127,1257 149,1262 C189,1272 181,1398 257,1398 C307,1398 317,1337 335,1282 M301,1297 C319,1266 345,1257 367,1262 C407,1272 399,1398 475,1398 C525,1398 535,1337 553,1282 M519,1297 C537,1266 563,1257 585,1262 C625,1272 617,1398 693,1398 C743,1398 753,1337 771,1282 M737,1297 C755,1266 781,1257 803,1262 C843,1272 835,1398 911,1398 C961,1398 971,1337 989,1282 M955,1297 C973,1266 999,1257 1021,1262 C1061,1272 1053,1398 1129,1398 C1179,1398 1189,1337 1207,1282 M1173,1297 C1191,1266 1217,1257 1239,1262 C1279,1272 1271,1398 1347,1398 C1397,1398 1407,1337 1425,1282 M1391,1297 C1409,1266 1435,1257 1457,1262 C1497,1272 1489,1398 1565,1398 C1615,1398 1625,1337 1643,1282" fill="none" stroke="#000" stroke-width="42" /></g></g></g>
<g transform="translate(2295.5 2092.3)"><circle r="16.1" fill="#fff" stroke="#000" stroke-width="4.4"/><path d="M-8.6,8.2 L7.4,-7.6 M-9.9,-7.4 L8.1,-8.1 L7.4,9.1" fill="none" stroke="#000" stroke-width="2.9" stroke-linecap="butt" stroke-linejoin="miter"/></g>
<circle cx="2151.7" cy="2279.5" r="80.6" fill="#8AD0F5"/>
<g transform="translate(2151.7 2279.5) scale(0.11084) translate(-809 -816.5)"><path d="M282,820 L717,390 L1180,848" fill="none" stroke="#000" stroke-width="44" stroke-linecap='square'/><path d="M855,498 V398 H955 V615" fill="none" stroke="#000" stroke-width="42" /><path d="M425,868 V1295 H1037 V868" fill="none" stroke="#000" stroke-width="42" stroke-linecap='round' stroke-linejoin='round'/><path d="M727,690 L560,990 A178,178 0 1 0 894,990 Z" fill="none" stroke="#000" stroke-width="42" stroke-linejoin='round'/><path d="M612,1125 L727,868 L842,1125" fill="none" stroke="#000" stroke-width="42" stroke-linejoin='round'/><path d="M662,1175 L727,1030 L792,1175" fill="none" stroke="#000" stroke-width="42" stroke-linejoin='round'/><path d="M590,1130 A160,160 0 0 0 864,1130" fill="none" stroke="#000" stroke-width="60" /></g>
<g transform="translate(2196.7 2241.5)"><circle r="16.1" fill="#fff" stroke="#000" stroke-width="4.4"/><path d="M-8.2,-8.3 L7.6,7.5 M7.0,-9.2 L7.9,7.9 L-9.7,6.9" fill="none" stroke="#000" stroke-width="2.9" stroke-linecap="butt" stroke-linejoin="miter"/></g>
<circle cx="364.2" cy="1401.6" r="80.6" fill="#0E6669"/>
<g transform="translate(364.2 1401.6) scale(0.11084) translate(-816.5 -814)"><g transform="translate(0 0)"><path d="M716,1050 V375 A71,71 0 0 1 859,375 V1050 A143,143 0 1 1 716,1050 Z" fill="none" stroke="#fff" stroke-width="42" stroke-linejoin='round'/><path d="M786,595 V1140" fill="none" stroke="#fff" stroke-width="38" stroke-linecap='round'/><circle cx="786" cy="1140" r="61" fill="#fff"/></g></g>
<g transform="translate(409.2 1363.6)"><circle r="16.1" fill="#fff" stroke="#000" stroke-width="4.4"/><path d="M-8.6,8.2 L7.4,-7.6 M-9.9,-7.4 L8.1,-8.1 L7.4,9.1" fill="none" stroke="#000" stroke-width="2.9" stroke-linecap="butt" stroke-linejoin="miter"/></g>
<circle cx="320.7" cy="1573.9" r="80.6" fill="#0E6669"/>
<g transform="translate(320.7 1573.9) scale(0.11084) translate(-809 -811.5)"><g clip-path="url(#ic17)"><path d="M320,1428 L795,425 L1270,1432" fill="none" stroke="#fff" stroke-width="40" stroke-linejoin='round'/></g><path d="M795,478 L607,880 L624,985 L690,838 L840,1165 L985,872 Z" fill="none" stroke="#fff" stroke-width="38" stroke-linejoin='round'/><path d="M648,222 L685,370" fill="none" stroke="#fff" stroke-width="42" stroke-linecap='round'/><path d="M935,225 L890,378" fill="none" stroke="#fff" stroke-width="42" stroke-linecap='round'/><path d="M400,362 L500,470" fill="none" stroke="#fff" stroke-width="42" stroke-linecap='round'/><path d="M245,605 L395,650" fill="none" stroke="#fff" stroke-width="42" stroke-linecap='round'/><path d="M237,890 L392,853" fill="none" stroke="#fff" stroke-width="42" stroke-linecap='round'/></g>
<g transform="translate(365.7 1535.9)"><circle r="16.1" fill="#fff" stroke="#000" stroke-width="4.4"/><path d="M-8.2,-8.3 L7.6,7.5 M7.0,-9.2 L7.9,7.9 L-9.7,6.9" fill="none" stroke="#000" stroke-width="2.9" stroke-linecap="butt" stroke-linejoin="miter"/></g>
<circle cx="324.1" cy="1750.2" r="80.6" fill="#0E6669"/>
<g transform="translate(324.1 1750.2) scale(0.11084) translate(-812.5 -814)"><path d="M657,462 L500,482 L300,355 L288,500 L300,652 L218,782 L255,812 L222,895 L288,905 L275,978 L430,1030 L480,1092 L512,1250 L562,1322 L657,1340 L752,1322 L802,1250 L834,1092 L884,1030 L1039,978 L1026,905 L1092,895 L1059,812 L1096,782 L1014,652 L1026,500 L1014,355 L814,482 L657,462 Z" fill="none" stroke="#fff" stroke-width="40" stroke-linejoin='round'/><path d="M328,440 L420,568 L322,622" fill="none" stroke="#fff" stroke-width="36" stroke-linejoin='round'/><path d="M986,440 L894,568 L992,622" fill="none" stroke="#fff" stroke-width="36" stroke-linejoin='round'/><path d="M300,935 C330,820 420,755 500,755 C580,755 630,820 657,905 C684,820 734,755 814,755 C894,755 984,820 1014,935" fill="none" stroke="#fff" stroke-width="40" /><path d="M498,893 L578,925 L572,1002 Z" fill="#fff"/><path d="M816,893 L736,925 L742,1002 Z" fill="#fff"/><path d="M568,1215 Q657,1175 746,1215 Q700,1290 657,1290 Q614,1290 568,1215 Z" fill="#fff"/></g>
<g transform="translate(369.1 1712.2)"><circle r="16.1" fill="#fff" stroke="#000" stroke-width="4.4"/><path d="M-8.2,-8.3 L7.6,7.5 M7.0,-9.2 L7.9,7.9 L-9.7,6.9" fill="none" stroke="#000" stroke-width="2.9" stroke-linecap="butt" stroke-linejoin="miter"/></g>
<circle cx="374.7" cy="1922.5" r="80.6" fill="#0E6669"/>
<g transform="translate(374.7 1922.5) scale(0.11084) translate(-809 -816.5)"><g clip-path="url(#ic19)"><path d="M100,1112 L438,405 L885,1375 H1215" fill="none" stroke="#fff" stroke-width="40" stroke-linejoin='round' stroke-linecap='round'/></g><path d="M438,462 L228,905 L260,968 L325,830 L480,1152 L620,872 Z" fill="none" stroke="#fff" stroke-width="38" stroke-linejoin='round'/><circle cx="578" cy="495" r="43" fill="#fff"/><path d="M632,610 L730,566 L726,646 Z" fill="none" stroke="#fff" stroke-width="28" stroke-linejoin='round'/><path d="M505,378 L545,448 M535,355 L572,425" fill="none" stroke="#fff" stroke-width="13" /><path d="M790,500 L852,632 M840,490 L905,632" fill="none" stroke="#fff" stroke-width="15" /><path d="M835,690 L990,655 L1060,720 L1055,950 L830,925 L810,770 Z" fill="none" stroke="#fff" stroke-width="38" stroke-linejoin='round'/><path d="M855,792 L905,770 L928,708 M988,820 L965,880 L992,928" fill="none" stroke="#fff" stroke-width="20" stroke-linejoin='round'/></g>
<circle cx="526.0" cy="2237.4" r="80.6" fill="#A6A6A6"/>
<g transform="translate(526.0 2237.4) scale(0.11084) translate(-811.5 -815.5)"><g clip-path="url(#ic20)"><path d="M685,560 L568,1560 M905,560 L1017,1560 M793,490 V1560" fill="none" stroke="#000" stroke-width="40" /><path d="M669,700 L793,612 L921,700" fill="none" stroke="#000" stroke-width="38" /><path d="M669,700 L950,960 M921,700 L638,960" fill="none" stroke="#000" stroke-width="38" /><path d="M638,960 L978,1210 M950,960 L609,1210" fill="none" stroke="#000" stroke-width="38" /><path d="M609,1210 L1007,1470 M978,1210 L579,1470" fill="none" stroke="#000" stroke-width="38" /></g><rect x="686" y="488" width="214" height="60" fill="none" stroke="#000" stroke-width="40" /><path d="M615,558 H972" fill="none" stroke="#000" stroke-width="40" /><path d="M543,800 V420 A115,115 0 0 1 773,420" fill="none" stroke="#000" stroke-width="42" /><path d="M1062,800 V420 A115,115 0 0 0 832,420" fill="none" stroke="#000" stroke-width="42" /></g>
<circle cx="640.0" cy="2371.5" r="80.6" fill="#A6A6A6"/>
<g transform="translate(640.0 2371.5) scale(0.11084) translate(-811.5 -816.5)"><g transform="translate(-21.0 -30.5)"><path d="M716,1050 V375 A71,71 0 0 1 859,375 V1050 A143,143 0 1 1 716,1050 Z" fill="none" stroke="#000" stroke-width="42" stroke-linejoin='round'/><path d="M786,595 V1140" fill="none" stroke="#000" stroke-width="38" stroke-linecap='round'/><circle cx="786" cy="1140" r="61" fill="#000"/></g><g clip-path="url(#ic21)"><path d="M80,974.0 L92,979.1 L104,984.5 L116,990.0 L128,995.2 L140,999.7 L152,1003.3 L164,1005.8 L176,1006.9 L188,1006.7 L200,1005.1 L212,1002.2 L224,998.3 L236,993.5 L248,988.2 L260,982.7 L272,977.3 L284,972.4 L296,968.3 L308,965.3 L320,963.5 L332,963.0 L344,963.9 L356,966.2 L368,969.6 L380,974.0 L392,979.1 L404,984.5 L416,990.0 L428,995.2 L440,999.7 L452,1003.3 L464,1005.8 L476,1006.9 L488,1006.7 L500,1005.1 L512,1002.2 L524,998.3 L536,993.5 L548,988.2 L560,982.7 L572,977.3 L584,972.4 L596,968.3 L608,965.3 L620,963.5 L632,963.0" fill="none" stroke="#000" stroke-width="36" /><path d="M905,964.1 L917,963.0 L929,963.4 L941,965.2 L954,968.2 L966,972.3 L978,977.2 L990,982.7 L1002,988.2 L1014,993.6 L1026,998.4 L1038,1002.4 L1051,1005.2 L1063,1006.7 L1075,1006.9 L1087,1005.6 L1099,1003.0 L1111,999.3 L1123,994.6 L1135,989.4 L1148,983.8 L1160,978.3 L1172,973.3 L1184,969.0 L1196,965.7 L1208,963.7 L1220,963.0 L1232,963.7 L1245,965.9 L1257,969.2 L1269,973.6 L1281,978.6 L1293,984.1 L1305,989.7 L1317,994.9 L1330,999.6 L1342,1003.2 L1354,1005.7 L1366,1006.9 L1378,1006.7 L1390,1005.1 L1402,1002.2 L1414,998.1 L1427,993.3 L1439,987.9 L1451,982.3 L1463,976.9 L1475,972.0 L1487,968.0 L1499,965.0 L1511,963.3 L1524,963.1 L1536,964.2 L1548,966.6 L1560,970.3" fill="none" stroke="#000" stroke-width="36" /><path d="M80,1089.0 L92,1094.2 L104,1099.8 L117,1105.4 L129,1110.6 L141,1115.1 L154,1118.7 L166,1121.0 L178,1122.0 L190,1121.5 L202,1119.6 L215,1116.4 L227,1112.2 L239,1107.1 L252,1101.6 L264,1096.0 L276,1090.6 L288,1085.9 L300,1082.1 L313,1079.4 L325,1078.1 L337,1078.3 L350,1079.8 L362,1082.7 L374,1086.7 L386,1091.6 L398,1097.0 L411,1102.6 L423,1108.1 L435,1113.0 L448,1117.1 L460,1120.1 L472,1121.7 L484,1121.9 L496,1120.7 L509,1118.1 L521,1114.4 L533,1109.7 L546,1104.3 L558,1098.7 L570,1093.2" fill="none" stroke="#000" stroke-width="36" /><path d="M965,1087.1 L977,1092.0 L989,1097.4 L1001,1103.0 L1014,1108.3 L1026,1113.2 L1038,1117.2 L1050,1120.1 L1062,1121.7 L1074,1121.9 L1086,1120.7 L1099,1118.2 L1111,1114.5 L1123,1109.8 L1135,1104.6 L1147,1099.0 L1159,1093.5 L1171,1088.4 L1184,1084.1 L1196,1080.8 L1208,1078.7 L1220,1078.0 L1232,1078.7 L1244,1080.8 L1256,1084.1 L1269,1088.4 L1281,1093.5 L1293,1099.0 L1305,1104.6 L1317,1109.8 L1329,1114.5 L1341,1118.2 L1354,1120.7 L1366,1121.9 L1378,1121.7 L1390,1120.1 L1402,1117.2 L1414,1113.2 L1426,1108.3 L1439,1103.0 L1451,1097.4 L1463,1092.0 L1475,1087.1 L1487,1083.0 L1499,1080.0 L1511,1078.4 L1524,1078.1 L1536,1079.2 L1548,1081.6 L1560,1085.3" fill="none" stroke="#000" stroke-width="36" /><path d="M80,1204.0 L92,1209.2 L104,1214.7 L117,1220.3 L129,1225.5 L141,1230.1 L153,1233.6 L165,1236.0 L178,1237.0 L190,1236.5 L202,1234.7 L214,1231.6 L226,1227.4 L239,1222.4 L251,1217.0 L263,1211.4 L275,1206.0 L287,1201.2 L300,1197.3 L312,1194.6 L324,1193.2 L336,1193.2 L348,1194.6 L360,1197.3 L373,1201.2 L385,1206.0 L397,1211.4 L409,1217.0 L421,1222.4 L434,1227.4 L446,1231.6 L458,1234.7 L470,1236.5 L482,1237.0 L495,1236.0 L507,1233.6 L519,1230.1 L531,1225.5 L543,1220.3 L556,1214.7 L568,1209.2 L580,1204.0" fill="none" stroke="#000" stroke-width="36" /><path d="M965,1202.1 L977,1207.0 L989,1212.4 L1001,1218.0 L1014,1223.3 L1026,1228.2 L1038,1232.2 L1050,1235.1 L1062,1236.7 L1074,1236.9 L1086,1235.7 L1099,1233.2 L1111,1229.5 L1123,1224.8 L1135,1219.6 L1147,1214.0 L1159,1208.5 L1171,1203.4 L1184,1199.1 L1196,1195.8 L1208,1193.7 L1220,1193.0 L1232,1193.7 L1244,1195.8 L1256,1199.1 L1269,1203.4 L1281,1208.5 L1293,1214.0 L1305,1219.6 L1317,1224.8 L1329,1229.5 L1341,1233.2 L1354,1235.7 L1366,1236.9 L1378,1236.7 L1390,1235.1 L1402,1232.2 L1414,1228.2 L1426,1223.3 L1439,1218.0 L1451,1212.4 L1463,1207.0 L1475,1202.1 L1487,1198.0 L1499,1195.0 L1511,1193.4 L1524,1193.1 L1536,1194.2 L1548,1196.6 L1560,1200.3" fill="none" stroke="#000" stroke-width="36" /></g></g>
<g transform="translate(685.0 2333.5)"><circle r="16.1" fill="#fff" stroke="#000" stroke-width="4.4"/><path d="M-8.6,8.2 L7.4,-7.6 M-9.9,-7.4 L8.1,-8.1 L7.4,9.1" fill="none" stroke="#000" stroke-width="2.9" stroke-linecap="butt" stroke-linejoin="miter"/></g>
<circle cx="775.7" cy="2482.5" r="80.6" fill="#A6A6A6"/>
<g transform="translate(775.7 2482.5) scale(0.11084) translate(-809 -816.5)"><path d="M275,1122 L460,512 L570,505" fill="none" stroke="#000" stroke-width="36" stroke-linejoin='round' stroke-linecap='round'/><path d="M535,732 L625,325 L745,255 L1120,720 L1210,1110" fill="none" stroke="#000" stroke-width="36" stroke-linejoin='round' stroke-linecap='round'/><path d="M745,255 L915,670 V1065" fill="none" stroke="#000" stroke-width="36" stroke-linejoin='round' stroke-linecap='round'/><path d="M515,825 L478,985" fill="none" stroke="#000" stroke-width="36" stroke-linecap='round'/><path d="M265,1125 C330,1125 360,1090 420,1090 C480,1090 510,1132 572,1132 C634,1132 665,1090 725,1090 C785,1090 815,1132 877,1132 C939,1132 970,1090 1030,1090 C1090,1090 1120,1132 1185,1132 C1250,1132 1300,1100 1335,1065" fill="none" stroke="#000" stroke-width="36" stroke-linecap='round'/><path d="M265,1249 C330,1249 360,1214 420,1214 C480,1214 510,1256 572,1256 C634,1256 665,1214 725,1214 C785,1214 815,1256 877,1256 C939,1256 970,1214 1030,1214 C1090,1214 1120,1256 1185,1256 C1250,1256 1300,1224 1335,1189" fill="none" stroke="#000" stroke-width="36" stroke-linecap='round'/></g>
<g transform="translate(820.7 2444.5)"><circle r="16.1" fill="#fff" stroke="#000" stroke-width="4.4"/><path d="M-8.2,-8.3 L7.6,7.5 M7.0,-9.2 L7.9,7.9 L-9.7,6.9" fill="none" stroke="#000" stroke-width="2.9" stroke-linecap="butt" stroke-linejoin="miter"/></g>
<circle cx="928.1" cy="2570.5" r="80.6" fill="#A6A6A6"/>
<g transform="translate(928.1 2570.5) scale(0.11084) translate(-812.5 -816.5)"><path d="M250,962 L525,690 Q550,665 590,665 H1040 C1180,665 1285,780 1285,905 L1245,945 Q1230,965 1245,985 L1350,1100 L1262,1198 L1238,1180 H830 L720,1292 H640 V1192 L490,1035 H272 Q235,1020 250,962 Z" fill="none" stroke="#000" stroke-width="40" stroke-linejoin='round'/><path d="M495,1072 L420,1140 L488,1210 H612" fill="none" stroke="#000" stroke-width="38" stroke-linejoin='miter'/><path d="M855,1185 V1292 M1030,1185 L940,1292 M720,1292 H940" fill="none" stroke="#000" stroke-width="38" /><circle cx="388" cy="902" r="19" fill="#000"/><path d="M318,945 Q350,965 358,1005" fill="none" stroke="#000" stroke-width="14" /><g clip-path="url(#ic23)"><path d="M395,1338 H1500" fill="none" stroke="#000" stroke-width="66" stroke-linecap='round'/></g></g>
<g transform="translate(973.1 2532.5)"><circle r="16.1" fill="#fff" stroke="#000" stroke-width="4.4"/><path d="M-8.2,-8.3 L7.6,7.5 M7.0,-9.2 L7.9,7.9 L-9.7,6.9" fill="none" stroke="#000" stroke-width="2.9" stroke-linecap="butt" stroke-linejoin="miter"/></g>
<circle cx="1266.3" cy="2660.3" r="80.6" fill="#fff" stroke="#E3E3E3" stroke-width="4"/>
<g transform="translate(1266.3 2660.3) scale(0.11084) translate(-815 -815)"><path d="M225,842 C480,560 950,530 1180,830 C1260,940 1300,1080 1310,1218" fill="none" stroke="#000" stroke-width="46" /><path d="M225,842 C480,1130 950,1160 1180,830 C1260,720 1300,600 1310,465" fill="none" stroke="#000" stroke-width="46" /><path d="M400,760 L520,880 M520,760 L400,880" fill="none" stroke="#000" stroke-width="40" /></g>
<circle cx="1440.3" cy="2660.3" r="80.6" fill="#fff" stroke="#E3E3E3" stroke-width="4"/>
<g transform="translate(1440.3 2660.3) scale(0.11084) translate(-815 -815)"><path d="M808,437 L908,660 L808,602 L712,660 Z" fill="#000"/><path d="M808,700 C612,820 600,1120 808,1270 C880,1325 960,1360 1038,1365" fill="none" stroke="#000" stroke-width="46" /><path d="M808,700 C1004,820 1016,1120 808,1270 C736,1325 656,1360 580,1365" fill="none" stroke="#000" stroke-width="46" /><circle cx="818" cy="808" r="14" fill="#000"/><text x="810" y="412" text-anchor="middle" font-family="'Liberation Sans',sans-serif" font-weight="700" font-size="240" fill="#000" stroke="#000" stroke-width="10">N</text></g>
<circle cx="1614.8" cy="2629.9" r="80.6" fill="#fff" stroke="#E3E3E3" stroke-width="4"/>
<g transform="translate(1614.8 2629.9) scale(0.11084) translate(-810 -811.5)"><path d="M302,668 L370,738 V792 L323,745 V830 H281 V745 L234,792 V738 Z" fill="#000"/><path d="M477,668 L545,738 V792 L498,745 V830 H456 V745 L409,792 V738 Z" fill="#000"/><path d="M632,668 L700,738 V792 L653,745 V830 H611 V745 L564,792 V738 Z" fill="#000"/><path d="M790,668 L858,738 V792 L811,745 V830 H769 V745 L722,792 V738 Z" fill="#000"/><path d="M947,668 L1015,738 V792 L968,745 V830 H926 V745 L879,792 V738 Z" fill="#000"/><path d="M1103,668 L1171,738 V792 L1124,745 V830 H1082 V745 L1035,792 V738 Z" fill="#000"/><path d="M1260,668 L1328,738 V792 L1281,745 V830 H1239 V745 L1192,792 V738 Z" fill="#000"/><g clip-path="url(#ic26)"><path d="M60,958.5 L72,962.5 L84,967.3 L96,972.6 L108,978.0 L120,983.3 L132,988.0 L144,992.0 L156,994.9 L168,996.6 L180,997.0 L192,996.0 L204,993.8 L216,990.4 L228,986.1 L240,981.1 L252,975.8 L264,970.4 L276,965.3 L288,960.7 L300,957.1 L312,954.5 L324,953.2 L336,953.2 L348,954.5 L360,957.1 L372,960.7 L384,965.3 L396,970.4 L408,975.8 L420,981.1 L432,986.1 L444,990.4 L456,993.8 L468,996.0 L480,997.0 L492,996.6 L504,994.9 L516,992.0 L528,988.0 L540,983.3 L552,978.0 L564,972.6 L576,967.3 L588,962.5 L600,958.5 L612,955.4 L624,953.6 L636,953.0 L648,953.8 L660,955.9 L672,959.1 L684,963.3 L696,968.2 L708,973.5 L720,978.9 L732,984.1 L744,988.7 L756,992.5 L768,995.2 L780,996.7 L792,996.9 L804,995.7 L816,993.3 L828,989.8 L840,985.3 L852,980.3 L864,974.9 L876,969.5 L888,964.5 L900,960.1 L912,956.6 L924,954.2 L936,953.1 L948,953.3 L960,954.8 L972,957.6 L984,961.4 L996,966.1 L1008,971.3 L1020,976.7 L1032,982.0 L1044,986.9 L1056,991.1 L1068,994.3 L1080,996.3 L1092,997.0 L1104,996.4 L1116,994.5 L1128,991.4 L1140,987.3 L1152,982.4 L1164,977.1 L1176,971.7 L1188,966.5 L1200,961.8 L1212,957.9 L1224,955.0 L1236,953.4 L1248,953.0 L1260,954.0 L1272,956.3 L1284,959.7 L1296,964.1 L1308,969.1 L1320,974.4 L1332,979.8 L1344,984.9 L1356,989.4 L1368,993.1 L1380,995.6 L1392,996.9 L1404,996.8 L1416,995.4 L1428,992.8 L1440,989.1 L1452,984.5 L1464,979.4 L1476,974.0 L1488,968.6 L1500,963.7 L1512,959.4 L1524,956.1 L1536,953.9 L1548,953.0 L1560,953.5" fill="none" stroke="#000" stroke-width="40" /><path d="M60,1078.5 L72,1082.5 L84,1087.3 L96,1092.6 L108,1098.0 L120,1103.3 L132,1108.0 L144,1112.0 L156,1114.9 L168,1116.6 L180,1117.0 L192,1116.0 L204,1113.8 L216,1110.4 L228,1106.1 L240,1101.1 L252,1095.8 L264,1090.4 L276,1085.3 L288,1080.7 L300,1077.1 L312,1074.5 L324,1073.2 L336,1073.2 L348,1074.5 L360,1077.1 L372,1080.7 L384,1085.3 L396,1090.4 L408,1095.8 L420,1101.1 L432,1106.1 L444,1110.4 L456,1113.8 L468,1116.0 L480,1117.0 L492,1116.6 L504,1114.9 L516,1112.0 L528,1108.0 L540,1103.3 L552,1098.0 L564,1092.6 L576,1087.3 L588,1082.5 L600,1078.5 L612,1075.4 L624,1073.6 L636,1073.0 L648,1073.8 L660,1075.9 L672,1079.1 L684,1083.3 L696,1088.2 L708,1093.5 L720,1098.9 L732,1104.1 L744,1108.7 L756,1112.5 L768,1115.2 L780,1116.7 L792,1116.9 L804,1115.7 L816,1113.3 L828,1109.8 L840,1105.3 L852,1100.3 L864,1094.9 L876,1089.5 L888,1084.5 L900,1080.1 L912,1076.6 L924,1074.2 L936,1073.1 L948,1073.3 L960,1074.8 L972,1077.6 L984,1081.4 L996,1086.1 L1008,1091.3 L1020,1096.7 L1032,1102.0 L1044,1106.9 L1056,1111.1 L1068,1114.3 L1080,1116.3 L1092,1117.0 L1104,1116.4 L1116,1114.5 L1128,1111.4 L1140,1107.3 L1152,1102.4 L1164,1097.1 L1176,1091.7 L1188,1086.5 L1200,1081.8 L1212,1077.9 L1224,1075.0 L1236,1073.4 L1248,1073.0 L1260,1074.0 L1272,1076.3 L1284,1079.7 L1296,1084.1 L1308,1089.1 L1320,1094.4 L1332,1099.8 L1344,1104.9 L1356,1109.4 L1368,1113.1 L1380,1115.6 L1392,1116.9 L1404,1116.8 L1416,1115.4 L1428,1112.8 L1440,1109.1 L1452,1104.5 L1464,1099.4 L1476,1094.0 L1488,1088.6 L1500,1083.7 L1512,1079.4 L1524,1076.1 L1536,1073.9 L1548,1073.0 L1560,1073.5" fill="none" stroke="#000" stroke-width="40" /><path d="M60,1193.5 L72,1197.5 L84,1202.3 L96,1207.6 L108,1213.0 L120,1218.3 L132,1223.0 L144,1227.0 L156,1229.9 L168,1231.6 L180,1232.0 L192,1231.0 L204,1228.8 L216,1225.4 L228,1221.1 L240,1216.1 L252,1210.8 L264,1205.4 L276,1200.3 L288,1195.7 L300,1192.1 L312,1189.5 L324,1188.2 L336,1188.2 L348,1189.5 L360,1192.1 L372,1195.7 L384,1200.3 L396,1205.4 L408,1210.8 L420,1216.1 L432,1221.1 L444,1225.4 L456,1228.8 L468,1231.0 L480,1232.0 L492,1231.6 L504,1229.9 L516,1227.0 L528,1223.0 L540,1218.3 L552,1213.0 L564,1207.6 L576,1202.3 L588,1197.5 L600,1193.5 L612,1190.4 L624,1188.6 L636,1188.0 L648,1188.8 L660,1190.9 L672,1194.1 L684,1198.3 L696,1203.2 L708,1208.5 L720,1213.9 L732,1219.1 L744,1223.7 L756,1227.5 L768,1230.2 L780,1231.7 L792,1231.9 L804,1230.7 L816,1228.3 L828,1224.8 L840,1220.3 L852,1215.3 L864,1209.9 L876,1204.5 L888,1199.5 L900,1195.1 L912,1191.6 L924,1189.2 L936,1188.1 L948,1188.3 L960,1189.8 L972,1192.6 L984,1196.4 L996,1201.1 L1008,1206.3 L1020,1211.7 L1032,1217.0 L1044,1221.9 L1056,1226.1 L1068,1229.3 L1080,1231.3 L1092,1232.0 L1104,1231.4 L1116,1229.5 L1128,1226.4 L1140,1222.3 L1152,1217.4 L1164,1212.1 L1176,1206.7 L1188,1201.5 L1200,1196.8 L1212,1192.9 L1224,1190.0 L1236,1188.4 L1248,1188.0 L1260,1189.0 L1272,1191.3 L1284,1194.7 L1296,1199.1 L1308,1204.1 L1320,1209.4 L1332,1214.8 L1344,1219.9 L1356,1224.4 L1368,1228.1 L1380,1230.6 L1392,1231.9 L1404,1231.8 L1416,1230.4 L1428,1227.8 L1440,1224.1 L1452,1219.5 L1464,1214.4 L1476,1209.0 L1488,1203.6 L1500,1198.7 L1512,1194.4 L1524,1191.1 L1536,1188.9 L1548,1188.0 L1560,1188.5" fill="none" stroke="#000" stroke-width="40" /><path d="M60,1313.5 L72,1317.5 L84,1322.3 L96,1327.6 L108,1333.0 L120,1338.3 L132,1343.0 L144,1347.0 L156,1349.9 L168,1351.6 L180,1352.0 L192,1351.0 L204,1348.8 L216,1345.4 L228,1341.1 L240,1336.1 L252,1330.8 L264,1325.4 L276,1320.3 L288,1315.7 L300,1312.1 L312,1309.5 L324,1308.2 L336,1308.2 L348,1309.5 L360,1312.1 L372,1315.7 L384,1320.3 L396,1325.4 L408,1330.8 L420,1336.1 L432,1341.1 L444,1345.4 L456,1348.8 L468,1351.0 L480,1352.0 L492,1351.6 L504,1349.9 L516,1347.0 L528,1343.0 L540,1338.3 L552,1333.0 L564,1327.6 L576,1322.3 L588,1317.5 L600,1313.5 L612,1310.4 L624,1308.6 L636,1308.0 L648,1308.8 L660,1310.9 L672,1314.1 L684,1318.3 L696,1323.2 L708,1328.5 L720,1333.9 L732,1339.1 L744,1343.7 L756,1347.5 L768,1350.2 L780,1351.7 L792,1351.9 L804,1350.7 L816,1348.3 L828,1344.8 L840,1340.3 L852,1335.3 L864,1329.9 L876,1324.5 L888,1319.5 L900,1315.1 L912,1311.6 L924,1309.2 L936,1308.1 L948,1308.3 L960,1309.8 L972,1312.6 L984,1316.4 L996,1321.1 L1008,1326.3 L1020,1331.7 L1032,1337.0 L1044,1341.9 L1056,1346.1 L1068,1349.3 L1080,1351.3 L1092,1352.0 L1104,1351.4 L1116,1349.5 L1128,1346.4 L1140,1342.3 L1152,1337.4 L1164,1332.1 L1176,1326.7 L1188,1321.5 L1200,1316.8 L1212,1312.9 L1224,1310.0 L1236,1308.4 L1248,1308.0 L1260,1309.0 L1272,1311.3 L1284,1314.7 L1296,1319.1 L1308,1324.1 L1320,1329.4 L1332,1334.8 L1344,1339.9 L1356,1344.4 L1368,1348.1 L1380,1350.6 L1392,1351.9 L1404,1351.8 L1416,1350.4 L1428,1347.8 L1440,1344.1 L1452,1339.5 L1464,1334.4 L1476,1329.0 L1488,1323.6 L1500,1318.7 L1512,1314.4 L1524,1311.1 L1536,1308.9 L1548,1308.0 L1560,1308.5" fill="none" stroke="#000" stroke-width="40" /></g></g>
<circle cx="1780.1" cy="2570.1" r="80.6" fill="#fff" stroke="#E3E3E3" stroke-width="4"/>
<g transform="translate(1780.1 2570.1) scale(0.11084) translate(-811.5 -816.5)"><g transform="translate(-21.0 -30.5)"><path d="M716,1050 V375 A71,71 0 0 1 859,375 V1050 A143,143 0 1 1 716,1050 Z" fill="none" stroke="#000" stroke-width="42" stroke-linejoin='round'/><path d="M786,595 V1140" fill="none" stroke="#000" stroke-width="38" stroke-linecap='round'/><circle cx="786" cy="1140" r="61" fill="#000"/></g><g clip-path="url(#ic27)"><path d="M80,974.0 L92,979.1 L104,984.5 L116,990.0 L128,995.2 L140,999.7 L152,1003.3 L164,1005.8 L176,1006.9 L188,1006.7 L200,1005.1 L212,1002.2 L224,998.3 L236,993.5 L248,988.2 L260,982.7 L272,977.3 L284,972.4 L296,968.3 L308,965.3 L320,963.5 L332,963.0 L344,963.9 L356,966.2 L368,969.6 L380,974.0 L392,979.1 L404,984.5 L416,990.0 L428,995.2 L440,999.7 L452,1003.3 L464,1005.8 L476,1006.9 L488,1006.7 L500,1005.1 L512,1002.2 L524,998.3 L536,993.5 L548,988.2 L560,982.7 L572,977.3 L584,972.4 L596,968.3 L608,965.3 L620,963.5 L632,963.0" fill="none" stroke="#000" stroke-width="36" /><path d="M905,964.1 L917,963.0 L929,963.4 L941,965.2 L954,968.2 L966,972.3 L978,977.2 L990,982.7 L1002,988.2 L1014,993.6 L1026,998.4 L1038,1002.4 L1051,1005.2 L1063,1006.7 L1075,1006.9 L1087,1005.6 L1099,1003.0 L1111,999.3 L1123,994.6 L1135,989.4 L1148,983.8 L1160,978.3 L1172,973.3 L1184,969.0 L1196,965.7 L1208,963.7 L1220,963.0 L1232,963.7 L1245,965.9 L1257,969.2 L1269,973.6 L1281,978.6 L1293,984.1 L1305,989.7 L1317,994.9 L1330,999.6 L1342,1003.2 L1354,1005.7 L1366,1006.9 L1378,1006.7 L1390,1005.1 L1402,1002.2 L1414,998.1 L1427,993.3 L1439,987.9 L1451,982.3 L1463,976.9 L1475,972.0 L1487,968.0 L1499,965.0 L1511,963.3 L1524,963.1 L1536,964.2 L1548,966.6 L1560,970.3" fill="none" stroke="#000" stroke-width="36" /><path d="M80,1089.0 L92,1094.2 L104,1099.8 L117,1105.4 L129,1110.6 L141,1115.1 L154,1118.7 L166,1121.0 L178,1122.0 L190,1121.5 L202,1119.6 L215,1116.4 L227,1112.2 L239,1107.1 L252,1101.6 L264,1096.0 L276,1090.6 L288,1085.9 L300,1082.1 L313,1079.4 L325,1078.1 L337,1078.3 L350,1079.8 L362,1082.7 L374,1086.7 L386,1091.6 L398,1097.0 L411,1102.6 L423,1108.1 L435,1113.0 L448,1117.1 L460,1120.1 L472,1121.7 L484,1121.9 L496,1120.7 L509,1118.1 L521,1114.4 L533,1109.7 L546,1104.3 L558,1098.7 L570,1093.2" fill="none" stroke="#000" stroke-width="36" /><path d="M965,1087.1 L977,1092.0 L989,1097.4 L1001,1103.0 L1014,1108.3 L1026,1113.2 L1038,1117.2 L1050,1120.1 L1062,1121.7 L1074,1121.9 L1086,1120.7 L1099,1118.2 L1111,1114.5 L1123,1109.8 L1135,1104.6 L1147,1099.0 L1159,1093.5 L1171,1088.4 L1184,1084.1 L1196,1080.8 L1208,1078.7 L1220,1078.0 L1232,1078.7 L1244,1080.8 L1256,1084.1 L1269,1088.4 L1281,1093.5 L1293,1099.0 L1305,1104.6 L1317,1109.8 L1329,1114.5 L1341,1118.2 L1354,1120.7 L1366,1121.9 L1378,1121.7 L1390,1120.1 L1402,1117.2 L1414,1113.2 L1426,1108.3 L1439,1103.0 L1451,1097.4 L1463,1092.0 L1475,1087.1 L1487,1083.0 L1499,1080.0 L1511,1078.4 L1524,1078.1 L1536,1079.2 L1548,1081.6 L1560,1085.3" fill="none" stroke="#000" stroke-width="36" /><path d="M80,1204.0 L92,1209.2 L104,1214.7 L117,1220.3 L129,1225.5 L141,1230.1 L153,1233.6 L165,1236.0 L178,1237.0 L190,1236.5 L202,1234.7 L214,1231.6 L226,1227.4 L239,1222.4 L251,1217.0 L263,1211.4 L275,1206.0 L287,1201.2 L300,1197.3 L312,1194.6 L324,1193.2 L336,1193.2 L348,1194.6 L360,1197.3 L373,1201.2 L385,1206.0 L397,1211.4 L409,1217.0 L421,1222.4 L434,1227.4 L446,1231.6 L458,1234.7 L470,1236.5 L482,1237.0 L495,1236.0 L507,1233.6 L519,1230.1 L531,1225.5 L543,1220.3 L556,1214.7 L568,1209.2 L580,1204.0" fill="none" stroke="#000" stroke-width="36" /><path d="M965,1202.1 L977,1207.0 L989,1212.4 L1001,1218.0 L1014,1223.3 L1026,1228.2 L1038,1232.2 L1050,1235.1 L1062,1236.7 L1074,1236.9 L1086,1235.7 L1099,1233.2 L1111,1229.5 L1123,1224.8 L1135,1219.6 L1147,1214.0 L1159,1208.5 L1171,1203.4 L1184,1199.1 L1196,1195.8 L1208,1193.7 L1220,1193.0 L1232,1193.7 L1244,1195.8 L1256,1199.1 L1269,1203.4 L1281,1208.5 L1293,1214.0 L1305,1219.6 L1317,1224.8 L1329,1229.5 L1341,1233.2 L1354,1235.7 L1366,1236.9 L1378,1236.7 L1390,1235.1 L1402,1232.2 L1414,1228.2 L1426,1223.3 L1439,1218.0 L1451,1212.4 L1463,1207.0 L1475,1202.1 L1487,1198.0 L1499,1195.0 L1511,1193.4 L1524,1193.1 L1536,1194.2 L1548,1196.6 L1560,1200.3" fill="none" stroke="#000" stroke-width="36" /></g></g>
<g transform="translate(1825.1 2532.1)"><circle r="16.1" fill="#fff" stroke="#000" stroke-width="4.4"/><path d="M-8.6,8.2 L7.4,-7.6 M-9.9,-7.4 L8.1,-8.1 L7.4,9.1" fill="none" stroke="#000" stroke-width="2.9" stroke-linecap="butt" stroke-linejoin="miter"/></g>
</svg>
<div class="t" style="left:2717.8px;top:222.3px;font-size:25.0px;line-height:25.0px;letter-spacing:0.814px;color:#000;font-weight:700;">Región del Mar Mediterráneo</div>
<div class="t" style="left:2717.6px;top:260.2px;font-size:24.0px;line-height:24.0px;letter-spacing:1.177px;color:#000;">Gran incremento de calores extremos</div>
<div class="t" style="left:2717.6px;top:290.2px;font-size:24.0px;line-height:24.0px;letter-spacing:0.902px;color:#000;">Disminución de las precipitaciones y del caudal de los ríos</div>
<div class="t" style="left:2717.6px;top:320.2px;font-size:24.0px;line-height:24.0px;letter-spacing:0.688px;color:#000;">Riesgo creciente de sequías</div>
<div class="t" style="left:2717.6px;top:350.2px;font-size:24.0px;line-height:24.0px;letter-spacing:0.961px;color:#000;">Riesgo creciente de pérdida de la biodiversidad</div>
<div class="t" style="left:2717.6px;top:380.2px;font-size:24.0px;line-height:24.0px;letter-spacing:0.871px;color:#000;">Riesgo creciente de incendios forestales</div>
<div class="t" style="left:2717.6px;top:410.2px;font-size:24.0px;line-height:24.0px;letter-spacing:1.000px;color:#000;">Competencia creciente entre los distintos usuarios del agua</div>
<div class="t" style="left:2717.6px;top:440.2px;font-size:24.0px;line-height:24.0px;letter-spacing:0.983px;color:#000;">Demanda creciente del agua para la agricultura</div>
<div class="t" style="left:2717.6px;top:470.2px;font-size:24.0px;line-height:24.0px;letter-spacing:1.247px;color:#000;">Disminución de los rendimientos agronómicos</div>
<div class="t" style="left:2717.6px;top:500.2px;font-size:24.0px;line-height:24.0px;letter-spacing:0.845px;color:#000;">Riesgos crecientes en la producción ganadera</div>
<div class="t" style="left:2717.6px;top:530.2px;font-size:24.0px;line-height:24.0px;letter-spacing:1.090px;color:#000;">Mayor mortalidad causada por olas de calor</div>
<div class="t" style="left:2717.6px;top:560.2px;font-size:24.0px;line-height:24.0px;letter-spacing:0.959px;color:#000;">Expansión de los hábitats para los vectores de enfermedades del sur</div>
<div class="t" style="left:2717.6px;top:590.2px;font-size:24.0px;line-height:24.0px;letter-spacing:0.962px;color:#000;">Potencial decreciente de la producción energética</div>
<div class="t" style="left:2716.6px;top:620.2px;font-size:24.0px;line-height:24.0px;letter-spacing:1.128px;color:#000;">Incremento de la demanda energética para la refrigeración</div>
<div class="t" style="left:2717.6px;top:650.2px;font-size:24.0px;line-height:24.0px;letter-spacing:1.106px;color:#000;">Disminución del turismo veraniego y posible aumento en otras estaciones</div>
<div class="t" style="left:2716.6px;top:680.2px;font-size:24.0px;line-height:24.0px;letter-spacing:1.155px;color:#000;">Incremento de múltiples riesgos climáticos</div>
<div class="t" style="left:2717.6px;top:710.2px;font-size:24.0px;line-height:24.0px;letter-spacing:1.015px;color:#000;">Gran parte de los sectores económicos perjudicados</div>
<div class="t" style="left:2717.6px;top:740.2px;font-size:24.0px;line-height:24.0px;letter-spacing:1.008px;color:#000;">Marcada vulnerabilidad a los efectos indirectos del cambio climático desde fuera de Europa</div>
<div class="t" style="left:2715.2px;top:822.3px;font-size:25.0px;line-height:25.0px;letter-spacing:0.407px;color:#fff;font-weight:700;">Región boreal</div>
<div class="t" style="left:2714.2px;top:860.2px;font-size:24.0px;line-height:24.0px;letter-spacing:1.141px;color:#000;">Incremento de las precipitaciones fuertes</div>
<div class="t" style="left:2715.2px;top:890.2px;font-size:24.0px;line-height:24.0px;letter-spacing:0.843px;color:#000;">Disminución de la cubierta de hielo de la nieve, los lagos y los ríos</div>
<div class="t" style="left:2716.2px;top:920.2px;font-size:24.0px;line-height:24.0px;letter-spacing:0.878px;color:#000;">Aumento de las precipitaciones y el caudal de los ríos</div>
<div class="t" style="left:2715.2px;top:950.2px;font-size:24.0px;line-height:24.0px;letter-spacing:0.936px;color:#000;">Potencial creciente del crecimiento de los bosques y mayor riesgo de plagas forestales</div>
<div class="t" style="left:2715.2px;top:980.2px;font-size:24.0px;line-height:24.0px;letter-spacing:1.013px;color:#000;">Riesgo creciente de daños causados por tormentas de invierno</div>
<div class="t" style="left:2714.2px;top:1010.2px;font-size:24.0px;line-height:24.0px;letter-spacing:1.304px;color:#000;">Incremento de los rendimientos agronómicos</div>
<div class="t" style="left:2715.2px;top:1040.2px;font-size:24.0px;line-height:24.0px;letter-spacing:1.070px;color:#000;">Menor demanda energética para la calefacción</div>
<div class="t" style="left:2715.2px;top:1070.2px;font-size:24.0px;line-height:24.0px;letter-spacing:1.005px;color:#000;">Mayor potencial de la energía hidráulica</div>
<div class="t" style="left:2714.2px;top:1100.2px;font-size:24.0px;line-height:24.0px;letter-spacing:1.291px;color:#000;">Incremento del turismo veraniego</div>
<div class="t" style="left:2715.2px;top:1177.7px;font-size:25.0px;line-height:25.0px;letter-spacing:0.687px;color:#000;font-weight:700;">Región continental</div>
<div class="t" style="left:2714.2px;top:1216.2px;font-size:24.0px;line-height:24.0px;letter-spacing:1.224px;color:#000;">Incremento de calores extremos</div>
<div class="t" style="left:2715.2px;top:1246.2px;font-size:24.0px;line-height:24.0px;letter-spacing:1.043px;color:#000;">Disminución de las precipitaciones en verano</div>
<div class="t" style="left:2715.2px;top:1276.2px;font-size:24.0px;line-height:24.0px;letter-spacing:0.936px;color:#000;">Mayor riesgo de inundaciones provocadas por las crecidas de los ríos</div>
<div class="t" style="left:2715.2px;top:1306.2px;font-size:24.0px;line-height:24.0px;letter-spacing:0.869px;color:#000;">Riesgo creciente de incendios forestales</div>
<div class="t" style="left:2715.2px;top:1336.2px;font-size:24.0px;line-height:24.0px;letter-spacing:1.083px;color:#000;">Disminución del valor económico de los bosques</div>
<div class="t" style="left:2715.2px;top:1366.2px;font-size:24.0px;line-height:24.0px;letter-spacing:1.143px;color:#000;">Mayor demanda energética para la refrigeración</div>
<div class="t" style="left:2717.6px;top:1436.3px;font-size:25.0px;line-height:25.0px;letter-spacing:0.496px;color:#000;font-weight:700;">Región del Atlántico</div>
<div class="t" style="left:2716.6px;top:1475.2px;font-size:24.0px;line-height:24.0px;letter-spacing:1.143px;color:#000;">Incremento de las precipitaciones fuertes</div>
<div class="t" style="left:2718.6px;top:1505.2px;font-size:24.0px;line-height:24.0px;letter-spacing:0.965px;color:#000;">Aumento del caudal de los ríos</div>
<div class="t" style="left:2717.6px;top:1535.2px;font-size:24.0px;line-height:24.0px;letter-spacing:0.810px;color:#000;">Riesgo creciente de inundación en ríos y costas</div>
<div class="t" style="left:2717.6px;top:1565.2px;font-size:24.0px;line-height:24.0px;letter-spacing:0.982px;color:#000;">Riesgo creciente de daños causados por tormentas invernales</div>
<div class="t" style="left:2717.6px;top:1595.2px;font-size:24.0px;line-height:24.0px;letter-spacing:1.072px;color:#000;">Menor demanda energética para la calefacción</div>
<div class="t" style="left:2716.6px;top:1625.2px;font-size:24.0px;line-height:24.0px;letter-spacing:1.155px;color:#000;">Incremento de múltiples riesgos climáticos</div>
<div class="t" style="left:2718.2px;top:1696.3px;font-size:25.0px;line-height:25.0px;letter-spacing:0.443px;color:#000;font-weight:700;">Zonas litorales y mares regionales</div>
<div class="t" style="left:2718.6px;top:1734.2px;font-size:24.0px;line-height:24.0px;letter-spacing:1.181px;color:#000;">Aumento del nivel del mar</div>
<div class="t" style="left:2716.6px;top:1764.2px;font-size:24.0px;line-height:24.0px;letter-spacing:1.141px;color:#000;">Incremento de las temperaturas en la superficie del mar</div>
<div class="t" style="left:2717.6px;top:1794.2px;font-size:24.0px;line-height:24.0px;letter-spacing:0.960px;color:#000;">Mayor acidez del océano</div>
<div class="t" style="left:2717.6px;top:1824.2px;font-size:24.0px;line-height:24.0px;letter-spacing:0.912px;color:#000;">Migración de las especies marinas hacia el norte</div>
<div class="t" style="left:2717.6px;top:1854.2px;font-size:24.0px;line-height:24.0px;letter-spacing:0.934px;color:#000;">Riesgos y algunas oportunidades de las industrias pesqueras</div>
<div class="t" style="left:2717.6px;top:1884.2px;font-size:24.0px;line-height:24.0px;letter-spacing:1.108px;color:#000;">Cambios de las comunidades de fitoplancton</div>
<div class="t" style="left:2717.6px;top:1914.2px;font-size:24.0px;line-height:24.0px;letter-spacing:1.188px;color:#000;">Número creciente de zonas muertas en el medio marino</div>
<div class="t" style="left:2717.6px;top:1944.2px;font-size:24.0px;line-height:24.0px;letter-spacing:1.000px;color:#000;">Riesgo creciente de enfermedades transmitidas por el agua</div>
<div class="t" style="left:2717.6px;top:2015.3px;font-size:25.0px;line-height:25.0px;letter-spacing:0.221px;color:#000;font-weight:700;">Región Ártica</div>
<div class="t" style="left:2718.6px;top:2052.6px;font-size:24.0px;line-height:24.0px;letter-spacing:1.373px;color:#000;">Aumento de la temperatura muy superior al promedio mundial</div>
<div class="t" style="left:2717.6px;top:2082.6px;font-size:24.0px;line-height:24.0px;letter-spacing:1.087px;color:#000;">Disminución de la cubierta de hielo del mar Ártico</div>
<div class="t" style="left:2717.6px;top:2112.6px;font-size:24.0px;line-height:24.0px;letter-spacing:0.982px;color:#000;">Disminución de la capa de hielo de Groenlandia</div>
<div class="t" style="left:2717.6px;top:2142.6px;font-size:24.0px;line-height:24.0px;letter-spacing:0.942px;color:#000;">Reducción de las zonas de permafrost</div>
<div class="t" style="left:2717.6px;top:2172.6px;font-size:24.0px;line-height:24.0px;letter-spacing:0.961px;color:#000;">Riesgo creciente de pérdida de la biodiversidad</div>
<div class="t" style="left:2718.6px;top:2202.6px;font-size:24.0px;line-height:24.0px;letter-spacing:1.016px;color:#000;">Algunas oportunidades nuevas para la explotación de recursos naturales y</div>
<div class="t" style="left:2718.6px;top:2232.6px;font-size:24.0px;line-height:24.0px;letter-spacing:1.413px;color:#000;">el transporte marítimo</div>
<div class="t" style="left:2717.6px;top:2262.6px;font-size:24.0px;line-height:24.0px;letter-spacing:0.811px;color:#000;">Riesgos para  los medios de vida de los pueblos indígenas</div>
<div class="t" style="left:2715.2px;top:2334.3px;font-size:25.0px;line-height:25.0px;letter-spacing:0.318px;color:#fff;font-weight:700;">Regiones montañosas</div>
<div class="t" style="left:2716.2px;top:2372.2px;font-size:24.0px;line-height:24.0px;letter-spacing:1.339px;color:#000;">Aumento de la temperatura superior al promedio europeo</div>
<div class="t" style="left:2715.2px;top:2402.2px;font-size:24.0px;line-height:24.0px;letter-spacing:0.841px;color:#000;">Reducción de la extensión y el volumen de los glaciares</div>
<div class="t" style="left:2715.2px;top:2432.2px;font-size:24.0px;line-height:24.0px;letter-spacing:0.760px;color:#000;">Desplazamiento de las especies vegetales y animales hacia zonas más altas</div>
<div class="t" style="left:2716.2px;top:2462.2px;font-size:24.0px;line-height:24.0px;letter-spacing:0.849px;color:#000;">Alto riesgo de extinción de especies</div>
<div class="t" style="left:2715.2px;top:2492.2px;font-size:24.0px;line-height:24.0px;letter-spacing:0.758px;color:#000;">Riesgo creciente de plagas forestales</div>
<div class="t" style="left:2715.2px;top:2522.2px;font-size:24.0px;line-height:24.0px;letter-spacing:0.754px;color:#000;">Riesgo creciente de caída de rocas y deslizamientos</div>
<div class="t" style="left:2715.2px;top:2552.2px;font-size:24.0px;line-height:24.0px;letter-spacing:0.922px;color:#000;">Cambios del potencial de la energía hidráulica</div>
<div class="t" style="left:2715.2px;top:2582.2px;font-size:24.0px;line-height:24.0px;letter-spacing:1.155px;color:#000;">Disminución del turismo de esquí</div>
<div class="t" style="left:210.0px;top:320.0px;font-size:39.6px;line-height:39.6px;letter-spacing:-0.197px;color:#000;">Se estima que el cambio climático afectará a la disponibilidad del agua en Europa, ejerciendo</div>
<div class="t" style="left:210.0px;top:365.3px;font-size:39.6px;line-height:39.6px;letter-spacing:-0.178px;color:#000;">una presión adicional sobre las regiones sureñas, que de por sí ya sufren estrés hídrico.</div>
<div class="t" style="left:210.0px;top:410.6px;font-size:39.6px;line-height:39.6px;letter-spacing:-0.173px;color:#000;">Se espera que otras partes de Europa se enfrenten a inundaciones más frecuentes, mientras</div>
<div class="t" style="left:211.0px;top:455.9px;font-size:39.6px;line-height:39.6px;letter-spacing:-0.199px;color:#000;">que las zonas bajas corren riesgo de marejadas ciclónicas y de aumento del nivel del mar.</div>
<div class="t" style="left:212.0px;top:199.4px;font-size:61.5px;line-height:61.5px;letter-spacing:-0.977px;color:#fff;font-weight:700;-webkit-text-stroke:1.8px #fff;">Impacto del cambio climático en las regiones europeas</div>
<div class="t" style="left:2190.6px;top:2690.1px;font-size:31.5px;line-height:31.5px;letter-spacing:0.258px;color:#EAF5FB;font-weight:700;">Fuente:</div>
<div class="t" style="left:2319.0px;top:2690.1px;font-size:31.5px;line-height:31.5px;letter-spacing:-0.457px;color:#EAF5FB;">Informe de la AEMA n.º 01/2017:</div>
<div class="t" style="left:2767.1px;top:2690.1px;font-size:31.5px;line-height:31.5px;letter-spacing:-1.050px;color:#EAF5FB;font-style:italic;">Cambio climático, impactos y vulnerabilidad en Europa 2016.</div>
</body></html>
